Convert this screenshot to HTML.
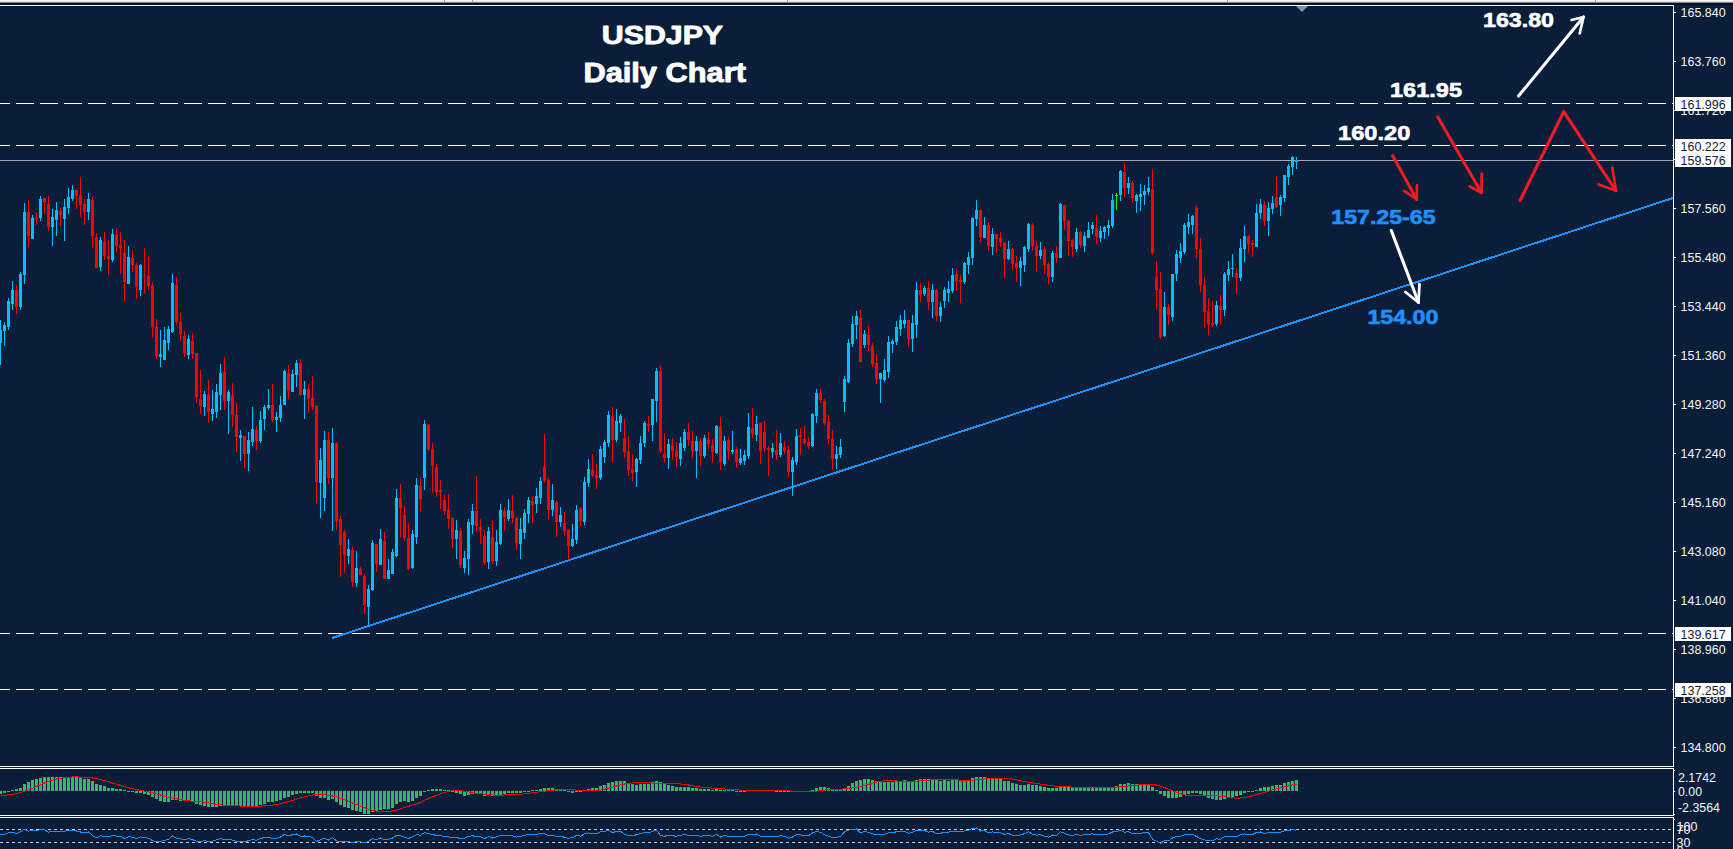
<!DOCTYPE html>
<html><head><meta charset="utf-8"><title>USDJPY Daily Chart</title>
<style>
html,body{margin:0;padding:0;background:#0a1e3a;overflow:hidden}
svg{display:block}
text{font-family:"Liberation Sans",sans-serif}
.ax{font-size:12.5px;fill:#f4f4f4}
.axb{font-size:12.5px;fill:#0a1e3a}
.ann{font-weight:bold;font-size:20.4px}
</style></head><body>
<svg width="1733" height="849" viewBox="0 0 1733 849">
<rect x="0" y="0" width="1733" height="849" fill="#0a1e3a"/>

<g shape-rendering="crispEdges">
<rect x="0" y="0" width="1733" height="1" fill="#f6f6f6"/>
<rect x="0" y="1" width="1733" height="1" fill="#e0dedc"/>
<rect x="0" y="2" width="1733" height="1" fill="#8a8682"/>
<rect x="444" y="0" width="1" height="2" fill="#9c9c9c"/>
<rect x="472" y="0" width="1" height="2" fill="#9c9c9c"/>
<rect x="787" y="0" width="1" height="2" fill="#9c9c9c"/>
<rect x="1227" y="0" width="1" height="2" fill="#9c9c9c"/>
<rect x="1595" y="0" width="1" height="2" fill="#9c9c9c"/>
<rect x="0" y="3" width="1733" height="2" fill="#00102c"/>
<rect x="0" y="5" width="1674" height="1" fill="#ffffff"/>
<rect x="0" y="6" width="1673" height="1" fill="#04132f"/>
<rect x="1673" y="5" width="1" height="762" fill="#ffffff"/>
<rect x="1673" y="768" width="1" height="48" fill="#ffffff"/>
<rect x="1673" y="817" width="1" height="32" fill="#ffffff"/>
<rect x="0" y="766" width="1674" height="1" fill="#ffffff"/>
<rect x="0" y="768" width="1674" height="1" fill="#ffffff"/>
<rect x="0" y="815" width="1674" height="1" fill="#ffffff"/>
<rect x="0" y="817" width="1674" height="1" fill="#ffffff"/>
<rect x="1674" y="12" width="2" height="1" fill="#ffffff"/>
<rect x="1674" y="61" width="2" height="1" fill="#ffffff"/>
<rect x="1674" y="110" width="2" height="1" fill="#ffffff"/>
<rect x="1674" y="159" width="2" height="1" fill="#ffffff"/>
<rect x="1674" y="208" width="2" height="1" fill="#ffffff"/>
<rect x="1674" y="257" width="2" height="1" fill="#ffffff"/>
<rect x="1674" y="306" width="2" height="1" fill="#ffffff"/>
<rect x="1674" y="355" width="2" height="1" fill="#ffffff"/>
<rect x="1674" y="404" width="2" height="1" fill="#ffffff"/>
<rect x="1674" y="453" width="2" height="1" fill="#ffffff"/>
<rect x="1674" y="502" width="2" height="1" fill="#ffffff"/>
<rect x="1674" y="551" width="2" height="1" fill="#ffffff"/>
<rect x="1674" y="600" width="2" height="1" fill="#ffffff"/>
<rect x="1674" y="649" width="2" height="1" fill="#ffffff"/>
<rect x="1674" y="698" width="2" height="1" fill="#ffffff"/>
<rect x="1674" y="747" width="2" height="1" fill="#ffffff"/>
<rect x="1674" y="770" width="1" height="1" fill="#ffffff"/>
<rect x="1674" y="791" width="1" height="1" fill="#ffffff"/>
<rect x="1674" y="814" width="1" height="1" fill="#ffffff"/>
<rect x="1674" y="819" width="1" height="1" fill="#ffffff"/>
</g>
<polygon points="1296,6 1308,6 1302,12" fill="#8494a6"/>
<g shape-rendering="crispEdges">
<line x1="-8" y1="103.5" x2="1673" y2="103.5" stroke="#ffffff" stroke-width="1" stroke-dasharray="18 6"/>
<line x1="-8" y1="145.5" x2="1673" y2="145.5" stroke="#ffffff" stroke-width="1" stroke-dasharray="18 6"/>
<line x1="-8" y1="633.5" x2="1673" y2="633.5" stroke="#ffffff" stroke-width="1" stroke-dasharray="18 6"/>
<line x1="-8" y1="689.5" x2="1673" y2="689.5" stroke="#ffffff" stroke-width="1" stroke-dasharray="18 6"/>
<rect x="0" y="160" width="1673" height="1" fill="#9da6b2"/>
<line x1="0" y1="829.5" x2="1673" y2="829.5" stroke="#c8ccd2" stroke-width="1" stroke-dasharray="3 3"/>
<line x1="0" y1="842.5" x2="1673" y2="842.5" stroke="#c8ccd2" stroke-width="1" stroke-dasharray="3 3"/>
</g>
<text class="ax" x="1680.6" y="16.7" textLength="45" lengthAdjust="spacingAndGlyphs">165.840</text>
<text class="ax" x="1680.6" y="65.7" textLength="45" lengthAdjust="spacingAndGlyphs">163.760</text>
<text class="ax" x="1680.6" y="114.7" textLength="45" lengthAdjust="spacingAndGlyphs">161.720</text>
<text class="ax" x="1680.6" y="163.7" textLength="45" lengthAdjust="spacingAndGlyphs">159.640</text>
<text class="ax" x="1680.6" y="212.7" textLength="45" lengthAdjust="spacingAndGlyphs">157.560</text>
<text class="ax" x="1680.6" y="261.7" textLength="45" lengthAdjust="spacingAndGlyphs">155.480</text>
<text class="ax" x="1680.6" y="310.7" textLength="45" lengthAdjust="spacingAndGlyphs">153.440</text>
<text class="ax" x="1680.6" y="359.7" textLength="45" lengthAdjust="spacingAndGlyphs">151.360</text>
<text class="ax" x="1680.6" y="408.7" textLength="45" lengthAdjust="spacingAndGlyphs">149.280</text>
<text class="ax" x="1680.6" y="457.7" textLength="45" lengthAdjust="spacingAndGlyphs">147.240</text>
<text class="ax" x="1680.6" y="506.7" textLength="45" lengthAdjust="spacingAndGlyphs">145.160</text>
<text class="ax" x="1680.6" y="555.7" textLength="45" lengthAdjust="spacingAndGlyphs">143.080</text>
<text class="ax" x="1680.6" y="604.7" textLength="45" lengthAdjust="spacingAndGlyphs">141.040</text>
<text class="ax" x="1680.6" y="653.7" textLength="45" lengthAdjust="spacingAndGlyphs">138.960</text>
<text class="ax" x="1680.6" y="702.7" textLength="45" lengthAdjust="spacingAndGlyphs">136.880</text>
<text class="ax" x="1680.6" y="751.7" textLength="45" lengthAdjust="spacingAndGlyphs">134.800</text>
<rect x="1675" y="97" width="56" height="14" fill="#ffffff" shape-rendering="crispEdges"/>
<text class="axb" x="1680.6" y="109.1" textLength="45" lengthAdjust="spacingAndGlyphs">161.996</text>
<rect x="1675" y="139" width="56" height="14" fill="#ffffff" shape-rendering="crispEdges"/>
<text class="axb" x="1680.6" y="151.1" textLength="45" lengthAdjust="spacingAndGlyphs">160.222</text>
<rect x="1675" y="153" width="56" height="14" fill="#ffffff" shape-rendering="crispEdges"/>
<text class="axb" x="1680.6" y="165.1" textLength="45" lengthAdjust="spacingAndGlyphs">159.576</text>
<rect x="1675" y="627" width="56" height="14" fill="#ffffff" shape-rendering="crispEdges"/>
<text class="axb" x="1680.6" y="639.1" textLength="45" lengthAdjust="spacingAndGlyphs">139.617</text>
<rect x="1675" y="683" width="56" height="14" fill="#ffffff" shape-rendering="crispEdges"/>
<text class="axb" x="1680.6" y="695.1" textLength="45" lengthAdjust="spacingAndGlyphs">137.258</text>
<text class="ax" x="1678" y="782" textLength="38" lengthAdjust="spacingAndGlyphs">2.1742</text>
<text class="ax" x="1678" y="796" textLength="24" lengthAdjust="spacingAndGlyphs">0.00</text>
<text class="ax" x="1678" y="812" textLength="42" lengthAdjust="spacingAndGlyphs">-2.3564</text>
<text class="ax" x="1676.6" y="831.2">100</text>
<text class="ax" x="1676.6" y="834">70</text>
<text class="ax" x="1676.6" y="847.2">30</text>
<text class="ax" x="1676.6" y="855">0</text>
<line x1="332" y1="638" x2="1673" y2="198" stroke="#1e90ff" stroke-width="2" shape-rendering="crispEdges"/>
<g shape-rendering="crispEdges">
<rect x="0" y="320" width="1" height="45" fill="#00bfff"/>
<rect x="-1" y="330" width="3" height="13" fill="#00bfff"/>
<rect x="4" y="322" width="1" height="24" fill="#00bfff"/>
<rect x="3" y="325" width="3" height="6" fill="#00bfff"/>
<rect x="8" y="298" width="1" height="32" fill="#00bfff"/>
<rect x="7" y="301" width="3" height="26" fill="#00bfff"/>
<rect x="12" y="281" width="1" height="29" fill="#00bfff"/>
<rect x="11" y="290" width="3" height="14" fill="#00bfff"/>
<rect x="16" y="285" width="1" height="29" fill="#ff0000"/>
<rect x="15" y="290" width="3" height="17" fill="#ff0000"/>
<rect x="20" y="272" width="1" height="38" fill="#00bfff"/>
<rect x="19" y="274" width="3" height="33" fill="#00bfff"/>
<rect x="24" y="203" width="1" height="81" fill="#00bfff"/>
<rect x="23" y="212" width="3" height="63" fill="#00bfff"/>
<rect x="28" y="200" width="1" height="47" fill="#ff0000"/>
<rect x="27" y="212" width="3" height="24" fill="#ff0000"/>
<rect x="32" y="215" width="1" height="24" fill="#00bfff"/>
<rect x="31" y="218" width="3" height="21" fill="#00bfff"/>
<rect x="36" y="212" width="1" height="13" fill="#ff0000"/>
<rect x="35" y="218" width="3" height="1" fill="#ff0000"/>
<rect x="40" y="196" width="1" height="25" fill="#00bfff"/>
<rect x="39" y="199" width="3" height="19" fill="#00bfff"/>
<rect x="44" y="198" width="1" height="16" fill="#ff0000"/>
<rect x="43" y="198" width="3" height="4" fill="#ff0000"/>
<rect x="48" y="196" width="1" height="35" fill="#ff0000"/>
<rect x="47" y="204" width="3" height="23" fill="#ff0000"/>
<rect x="52" y="209" width="1" height="37" fill="#00bfff"/>
<rect x="51" y="217" width="3" height="10" fill="#00bfff"/>
<rect x="56" y="202" width="1" height="34" fill="#00bfff"/>
<rect x="55" y="210" width="3" height="10" fill="#00bfff"/>
<rect x="60" y="208" width="1" height="18" fill="#ff0000"/>
<rect x="59" y="211" width="3" height="4" fill="#ff0000"/>
<rect x="64" y="199" width="1" height="42" fill="#00bfff"/>
<rect x="63" y="207" width="3" height="12" fill="#00bfff"/>
<rect x="68" y="188" width="1" height="26" fill="#00bfff"/>
<rect x="67" y="197" width="3" height="11" fill="#00bfff"/>
<rect x="72" y="185" width="1" height="16" fill="#00bfff"/>
<rect x="71" y="190" width="3" height="9" fill="#00bfff"/>
<rect x="76" y="189" width="1" height="20" fill="#ff0000"/>
<rect x="75" y="190" width="3" height="6" fill="#ff0000"/>
<rect x="80" y="177" width="1" height="40" fill="#ff0000"/>
<rect x="79" y="195" width="3" height="10" fill="#ff0000"/>
<rect x="84" y="199" width="1" height="26" fill="#ff0000"/>
<rect x="83" y="204" width="3" height="8" fill="#ff0000"/>
<rect x="88" y="193" width="1" height="27" fill="#00bfff"/>
<rect x="87" y="199" width="3" height="13" fill="#00bfff"/>
<rect x="92" y="196" width="1" height="52" fill="#ff0000"/>
<rect x="91" y="200" width="3" height="36" fill="#ff0000"/>
<rect x="96" y="233" width="1" height="35" fill="#ff0000"/>
<rect x="95" y="237" width="3" height="31" fill="#ff0000"/>
<rect x="100" y="237" width="1" height="34" fill="#00bfff"/>
<rect x="99" y="240" width="3" height="27" fill="#00bfff"/>
<rect x="104" y="232" width="1" height="28" fill="#ff0000"/>
<rect x="103" y="242" width="3" height="14" fill="#ff0000"/>
<rect x="108" y="240" width="1" height="35" fill="#ff0000"/>
<rect x="107" y="256" width="3" height="3" fill="#ff0000"/>
<rect x="112" y="229" width="1" height="33" fill="#00bfff"/>
<rect x="111" y="234" width="3" height="26" fill="#00bfff"/>
<rect x="116" y="228" width="1" height="24" fill="#ff0000"/>
<rect x="115" y="235" width="3" height="11" fill="#ff0000"/>
<rect x="120" y="232" width="1" height="42" fill="#ff0000"/>
<rect x="119" y="245" width="3" height="3" fill="#ff0000"/>
<rect x="124" y="240" width="1" height="61" fill="#ff0000"/>
<rect x="123" y="253" width="3" height="29" fill="#ff0000"/>
<rect x="128" y="246" width="1" height="38" fill="#00bfff"/>
<rect x="127" y="257" width="3" height="27" fill="#00bfff"/>
<rect x="132" y="250" width="1" height="22" fill="#ff0000"/>
<rect x="131" y="258" width="3" height="7" fill="#ff0000"/>
<rect x="136" y="263" width="1" height="36" fill="#ff0000"/>
<rect x="135" y="265" width="3" height="22" fill="#ff0000"/>
<rect x="140" y="264" width="1" height="32" fill="#00bfff"/>
<rect x="139" y="265" width="3" height="25" fill="#00bfff"/>
<rect x="144" y="248" width="1" height="46" fill="#ff0000"/>
<rect x="143" y="275" width="3" height="1" fill="#ff0000"/>
<rect x="148" y="257" width="1" height="33" fill="#ff0000"/>
<rect x="147" y="276" width="3" height="10" fill="#ff0000"/>
<rect x="152" y="282" width="1" height="56" fill="#ff0000"/>
<rect x="151" y="286" width="3" height="41" fill="#ff0000"/>
<rect x="156" y="319" width="1" height="40" fill="#ff0000"/>
<rect x="155" y="327" width="3" height="29" fill="#ff0000"/>
<rect x="160" y="330" width="1" height="37" fill="#00bfff"/>
<rect x="159" y="354" width="3" height="3" fill="#00bfff"/>
<rect x="164" y="327" width="1" height="33" fill="#00bfff"/>
<rect x="163" y="340" width="3" height="20" fill="#00bfff"/>
<rect x="168" y="326" width="1" height="24" fill="#00bfff"/>
<rect x="167" y="329" width="3" height="14" fill="#00bfff"/>
<rect x="172" y="274" width="1" height="59" fill="#00bfff"/>
<rect x="171" y="283" width="3" height="49" fill="#00bfff"/>
<rect x="176" y="277" width="1" height="48" fill="#ff0000"/>
<rect x="175" y="285" width="3" height="37" fill="#ff0000"/>
<rect x="180" y="313" width="1" height="28" fill="#ff0000"/>
<rect x="179" y="322" width="3" height="12" fill="#ff0000"/>
<rect x="184" y="331" width="1" height="26" fill="#ff0000"/>
<rect x="183" y="336" width="3" height="17" fill="#ff0000"/>
<rect x="188" y="335" width="1" height="24" fill="#00bfff"/>
<rect x="187" y="339" width="3" height="16" fill="#00bfff"/>
<rect x="192" y="333" width="1" height="26" fill="#ff0000"/>
<rect x="191" y="341" width="3" height="13" fill="#ff0000"/>
<rect x="196" y="353" width="1" height="50" fill="#ff0000"/>
<rect x="195" y="353" width="3" height="44" fill="#ff0000"/>
<rect x="200" y="370" width="1" height="44" fill="#ff0000"/>
<rect x="199" y="399" width="3" height="7" fill="#ff0000"/>
<rect x="204" y="391" width="1" height="25" fill="#00bfff"/>
<rect x="203" y="394" width="3" height="13" fill="#00bfff"/>
<rect x="208" y="380" width="1" height="43" fill="#ff0000"/>
<rect x="207" y="395" width="3" height="17" fill="#ff0000"/>
<rect x="212" y="390" width="1" height="31" fill="#00bfff"/>
<rect x="211" y="409" width="3" height="5" fill="#00bfff"/>
<rect x="216" y="384" width="1" height="34" fill="#00bfff"/>
<rect x="215" y="392" width="3" height="20" fill="#00bfff"/>
<rect x="220" y="364" width="1" height="46" fill="#00bfff"/>
<rect x="219" y="373" width="3" height="22" fill="#00bfff"/>
<rect x="224" y="357" width="1" height="53" fill="#ff0000"/>
<rect x="223" y="372" width="3" height="29" fill="#ff0000"/>
<rect x="228" y="390" width="1" height="44" fill="#00bfff"/>
<rect x="227" y="392" width="3" height="9" fill="#00bfff"/>
<rect x="232" y="383" width="1" height="44" fill="#ff0000"/>
<rect x="231" y="395" width="3" height="20" fill="#ff0000"/>
<rect x="236" y="403" width="1" height="49" fill="#ff0000"/>
<rect x="235" y="415" width="3" height="22" fill="#ff0000"/>
<rect x="240" y="430" width="1" height="31" fill="#00bfff"/>
<rect x="239" y="435" width="3" height="3" fill="#00bfff"/>
<rect x="244" y="436" width="1" height="32" fill="#ff0000"/>
<rect x="243" y="436" width="3" height="18" fill="#ff0000"/>
<rect x="248" y="432" width="1" height="39" fill="#00bfff"/>
<rect x="247" y="440" width="3" height="14" fill="#00bfff"/>
<rect x="252" y="407" width="1" height="39" fill="#00bfff"/>
<rect x="251" y="429" width="3" height="13" fill="#00bfff"/>
<rect x="256" y="426" width="1" height="24" fill="#ff0000"/>
<rect x="255" y="430" width="3" height="11" fill="#ff0000"/>
<rect x="260" y="411" width="1" height="32" fill="#00bfff"/>
<rect x="259" y="420" width="3" height="21" fill="#00bfff"/>
<rect x="264" y="405" width="1" height="25" fill="#00bfff"/>
<rect x="263" y="407" width="3" height="12" fill="#00bfff"/>
<rect x="268" y="389" width="1" height="21" fill="#00bfff"/>
<rect x="267" y="405" width="3" height="3" fill="#00bfff"/>
<rect x="272" y="384" width="1" height="38" fill="#ff0000"/>
<rect x="271" y="405" width="3" height="15" fill="#ff0000"/>
<rect x="276" y="412" width="1" height="20" fill="#00bfff"/>
<rect x="275" y="417" width="3" height="3" fill="#00bfff"/>
<rect x="280" y="396" width="1" height="26" fill="#00bfff"/>
<rect x="279" y="405" width="3" height="13" fill="#00bfff"/>
<rect x="284" y="370" width="1" height="35" fill="#00bfff"/>
<rect x="283" y="371" width="3" height="34" fill="#00bfff"/>
<rect x="288" y="365" width="1" height="34" fill="#ff0000"/>
<rect x="287" y="373" width="3" height="18" fill="#ff0000"/>
<rect x="292" y="370" width="1" height="22" fill="#00bfff"/>
<rect x="291" y="374" width="3" height="18" fill="#00bfff"/>
<rect x="296" y="360" width="1" height="27" fill="#00bfff"/>
<rect x="295" y="363" width="3" height="12" fill="#00bfff"/>
<rect x="300" y="359" width="1" height="37" fill="#ff0000"/>
<rect x="299" y="363" width="3" height="32" fill="#ff0000"/>
<rect x="304" y="381" width="1" height="38" fill="#00bfff"/>
<rect x="303" y="389" width="3" height="6" fill="#00bfff"/>
<rect x="308" y="384" width="1" height="29" fill="#ff0000"/>
<rect x="307" y="389" width="3" height="10" fill="#ff0000"/>
<rect x="312" y="376" width="1" height="34" fill="#ff0000"/>
<rect x="311" y="398" width="3" height="9" fill="#ff0000"/>
<rect x="316" y="405" width="1" height="98" fill="#ff0000"/>
<rect x="315" y="406" width="3" height="76" fill="#ff0000"/>
<rect x="320" y="448" width="1" height="70" fill="#00bfff"/>
<rect x="319" y="460" width="3" height="23" fill="#00bfff"/>
<rect x="324" y="431" width="1" height="80" fill="#00bfff"/>
<rect x="323" y="440" width="3" height="58" fill="#00bfff"/>
<rect x="328" y="432" width="1" height="52" fill="#ff0000"/>
<rect x="327" y="440" width="3" height="38" fill="#ff0000"/>
<rect x="332" y="428" width="1" height="103" fill="#00bfff"/>
<rect x="331" y="443" width="3" height="35" fill="#00bfff"/>
<rect x="336" y="442" width="1" height="88" fill="#ff0000"/>
<rect x="335" y="443" width="3" height="78" fill="#ff0000"/>
<rect x="340" y="516" width="1" height="61" fill="#ff0000"/>
<rect x="339" y="519" width="3" height="26" fill="#ff0000"/>
<rect x="344" y="530" width="1" height="43" fill="#ff0000"/>
<rect x="343" y="532" width="3" height="23" fill="#ff0000"/>
<rect x="348" y="539" width="1" height="25" fill="#00bfff"/>
<rect x="347" y="549" width="3" height="7" fill="#00bfff"/>
<rect x="352" y="547" width="1" height="40" fill="#ff0000"/>
<rect x="351" y="550" width="3" height="32" fill="#ff0000"/>
<rect x="356" y="551" width="1" height="36" fill="#00bfff"/>
<rect x="355" y="568" width="3" height="15" fill="#00bfff"/>
<rect x="360" y="567" width="1" height="8" fill="#ff0000"/>
<rect x="359" y="569" width="3" height="6" fill="#ff0000"/>
<rect x="364" y="574" width="1" height="40" fill="#ff0000"/>
<rect x="363" y="576" width="3" height="29" fill="#ff0000"/>
<rect x="368" y="585" width="1" height="41" fill="#00bfff"/>
<rect x="367" y="589" width="3" height="18" fill="#00bfff"/>
<rect x="372" y="540" width="1" height="51" fill="#00bfff"/>
<rect x="371" y="543" width="3" height="47" fill="#00bfff"/>
<rect x="376" y="544" width="1" height="28" fill="#ff0000"/>
<rect x="375" y="544" width="3" height="20" fill="#ff0000"/>
<rect x="380" y="529" width="1" height="36" fill="#00bfff"/>
<rect x="379" y="539" width="3" height="26" fill="#00bfff"/>
<rect x="384" y="532" width="1" height="47" fill="#ff0000"/>
<rect x="383" y="541" width="3" height="38" fill="#ff0000"/>
<rect x="388" y="559" width="1" height="20" fill="#00bfff"/>
<rect x="387" y="570" width="3" height="9" fill="#00bfff"/>
<rect x="392" y="549" width="1" height="25" fill="#00bfff"/>
<rect x="391" y="552" width="3" height="22" fill="#00bfff"/>
<rect x="396" y="489" width="1" height="68" fill="#00bfff"/>
<rect x="395" y="498" width="3" height="58" fill="#00bfff"/>
<rect x="400" y="484" width="1" height="53" fill="#ff0000"/>
<rect x="399" y="498" width="3" height="10" fill="#ff0000"/>
<rect x="404" y="506" width="1" height="35" fill="#ff0000"/>
<rect x="403" y="515" width="3" height="23" fill="#ff0000"/>
<rect x="408" y="523" width="1" height="47" fill="#ff0000"/>
<rect x="407" y="538" width="3" height="31" fill="#ff0000"/>
<rect x="412" y="530" width="1" height="39" fill="#00bfff"/>
<rect x="411" y="534" width="3" height="34" fill="#00bfff"/>
<rect x="416" y="478" width="1" height="66" fill="#00bfff"/>
<rect x="415" y="485" width="3" height="52" fill="#00bfff"/>
<rect x="420" y="478" width="1" height="33" fill="#ff0000"/>
<rect x="419" y="486" width="3" height="13" fill="#ff0000"/>
<rect x="424" y="420" width="1" height="70" fill="#00bfff"/>
<rect x="423" y="424" width="3" height="54" fill="#00bfff"/>
<rect x="428" y="424" width="1" height="27" fill="#ff0000"/>
<rect x="427" y="425" width="3" height="24" fill="#ff0000"/>
<rect x="432" y="443" width="1" height="50" fill="#ff0000"/>
<rect x="431" y="449" width="3" height="17" fill="#ff0000"/>
<rect x="436" y="464" width="1" height="33" fill="#ff0000"/>
<rect x="435" y="467" width="3" height="25" fill="#ff0000"/>
<rect x="440" y="480" width="1" height="29" fill="#ff0000"/>
<rect x="439" y="490" width="3" height="2" fill="#ff0000"/>
<rect x="444" y="495" width="1" height="20" fill="#ff0000"/>
<rect x="443" y="500" width="3" height="11" fill="#ff0000"/>
<rect x="448" y="494" width="1" height="35" fill="#ff0000"/>
<rect x="447" y="510" width="3" height="9" fill="#ff0000"/>
<rect x="452" y="517" width="1" height="31" fill="#ff0000"/>
<rect x="451" y="518" width="3" height="21" fill="#ff0000"/>
<rect x="456" y="520" width="1" height="39" fill="#00bfff"/>
<rect x="455" y="530" width="3" height="9" fill="#00bfff"/>
<rect x="460" y="528" width="1" height="40" fill="#ff0000"/>
<rect x="459" y="531" width="3" height="34" fill="#ff0000"/>
<rect x="464" y="551" width="1" height="22" fill="#00bfff"/>
<rect x="463" y="558" width="3" height="10" fill="#00bfff"/>
<rect x="468" y="519" width="1" height="56" fill="#00bfff"/>
<rect x="467" y="522" width="3" height="37" fill="#00bfff"/>
<rect x="472" y="504" width="1" height="30" fill="#00bfff"/>
<rect x="471" y="511" width="3" height="14" fill="#00bfff"/>
<rect x="476" y="476" width="1" height="56" fill="#ff0000"/>
<rect x="475" y="511" width="3" height="15" fill="#ff0000"/>
<rect x="480" y="519" width="1" height="25" fill="#ff0000"/>
<rect x="479" y="527" width="3" height="4" fill="#ff0000"/>
<rect x="484" y="530" width="1" height="35" fill="#ff0000"/>
<rect x="483" y="536" width="3" height="27" fill="#ff0000"/>
<rect x="488" y="527" width="1" height="42" fill="#00bfff"/>
<rect x="487" y="531" width="3" height="31" fill="#00bfff"/>
<rect x="492" y="520" width="1" height="44" fill="#ff0000"/>
<rect x="491" y="537" width="3" height="24" fill="#ff0000"/>
<rect x="496" y="530" width="1" height="36" fill="#00bfff"/>
<rect x="495" y="542" width="3" height="19" fill="#00bfff"/>
<rect x="500" y="504" width="1" height="41" fill="#00bfff"/>
<rect x="499" y="510" width="3" height="34" fill="#00bfff"/>
<rect x="504" y="507" width="1" height="24" fill="#ff0000"/>
<rect x="503" y="511" width="3" height="6" fill="#ff0000"/>
<rect x="508" y="499" width="1" height="22" fill="#00bfff"/>
<rect x="507" y="510" width="3" height="9" fill="#00bfff"/>
<rect x="512" y="495" width="1" height="28" fill="#ff0000"/>
<rect x="511" y="511" width="3" height="7" fill="#ff0000"/>
<rect x="516" y="517" width="1" height="33" fill="#ff0000"/>
<rect x="515" y="518" width="3" height="25" fill="#ff0000"/>
<rect x="520" y="518" width="1" height="41" fill="#00bfff"/>
<rect x="519" y="529" width="3" height="15" fill="#00bfff"/>
<rect x="524" y="509" width="1" height="30" fill="#00bfff"/>
<rect x="523" y="513" width="3" height="20" fill="#00bfff"/>
<rect x="528" y="497" width="1" height="26" fill="#00bfff"/>
<rect x="527" y="500" width="3" height="14" fill="#00bfff"/>
<rect x="532" y="496" width="1" height="27" fill="#ff0000"/>
<rect x="531" y="501" width="3" height="4" fill="#ff0000"/>
<rect x="536" y="488" width="1" height="25" fill="#00bfff"/>
<rect x="535" y="496" width="3" height="8" fill="#00bfff"/>
<rect x="540" y="477" width="1" height="27" fill="#00bfff"/>
<rect x="539" y="481" width="3" height="17" fill="#00bfff"/>
<rect x="544" y="434" width="1" height="49" fill="#ff0000"/>
<rect x="543" y="467" width="3" height="14" fill="#ff0000"/>
<rect x="548" y="478" width="1" height="41" fill="#ff0000"/>
<rect x="547" y="480" width="3" height="30" fill="#ff0000"/>
<rect x="552" y="484" width="1" height="32" fill="#00bfff"/>
<rect x="551" y="500" width="3" height="10" fill="#00bfff"/>
<rect x="556" y="500" width="1" height="37" fill="#ff0000"/>
<rect x="555" y="502" width="3" height="20" fill="#ff0000"/>
<rect x="560" y="507" width="1" height="20" fill="#00bfff"/>
<rect x="559" y="515" width="3" height="7" fill="#00bfff"/>
<rect x="564" y="512" width="1" height="24" fill="#ff0000"/>
<rect x="563" y="523" width="3" height="8" fill="#ff0000"/>
<rect x="568" y="529" width="1" height="31" fill="#ff0000"/>
<rect x="567" y="530" width="3" height="16" fill="#ff0000"/>
<rect x="572" y="524" width="1" height="23" fill="#00bfff"/>
<rect x="571" y="539" width="3" height="7" fill="#00bfff"/>
<rect x="576" y="505" width="1" height="39" fill="#00bfff"/>
<rect x="575" y="510" width="3" height="30" fill="#00bfff"/>
<rect x="580" y="507" width="1" height="19" fill="#ff0000"/>
<rect x="579" y="509" width="3" height="12" fill="#ff0000"/>
<rect x="584" y="477" width="1" height="48" fill="#00bfff"/>
<rect x="583" y="482" width="3" height="40" fill="#00bfff"/>
<rect x="588" y="459" width="1" height="28" fill="#00bfff"/>
<rect x="587" y="469" width="3" height="14" fill="#00bfff"/>
<rect x="592" y="454" width="1" height="23" fill="#ff0000"/>
<rect x="591" y="470" width="3" height="6" fill="#ff0000"/>
<rect x="596" y="464" width="1" height="25" fill="#ff0000"/>
<rect x="595" y="475" width="3" height="3" fill="#ff0000"/>
<rect x="600" y="446" width="1" height="34" fill="#00bfff"/>
<rect x="599" y="449" width="3" height="29" fill="#00bfff"/>
<rect x="604" y="440" width="1" height="23" fill="#00bfff"/>
<rect x="603" y="442" width="3" height="15" fill="#00bfff"/>
<rect x="608" y="411" width="1" height="36" fill="#00bfff"/>
<rect x="607" y="415" width="3" height="28" fill="#00bfff"/>
<rect x="612" y="407" width="1" height="55" fill="#ff0000"/>
<rect x="611" y="416" width="3" height="24" fill="#ff0000"/>
<rect x="616" y="409" width="1" height="33" fill="#00bfff"/>
<rect x="615" y="421" width="3" height="19" fill="#00bfff"/>
<rect x="620" y="414" width="1" height="18" fill="#00bfff"/>
<rect x="619" y="416" width="3" height="7" fill="#00bfff"/>
<rect x="624" y="419" width="1" height="39" fill="#ff0000"/>
<rect x="623" y="438" width="3" height="14" fill="#ff0000"/>
<rect x="628" y="436" width="1" height="40" fill="#ff0000"/>
<rect x="627" y="451" width="3" height="19" fill="#ff0000"/>
<rect x="632" y="454" width="1" height="27" fill="#ff0000"/>
<rect x="631" y="469" width="3" height="4" fill="#ff0000"/>
<rect x="636" y="458" width="1" height="29" fill="#00bfff"/>
<rect x="635" y="459" width="3" height="13" fill="#00bfff"/>
<rect x="640" y="436" width="1" height="28" fill="#00bfff"/>
<rect x="639" y="443" width="3" height="17" fill="#00bfff"/>
<rect x="644" y="421" width="1" height="26" fill="#00bfff"/>
<rect x="643" y="423" width="3" height="20" fill="#00bfff"/>
<rect x="648" y="416" width="1" height="16" fill="#ff0000"/>
<rect x="647" y="424" width="3" height="2" fill="#ff0000"/>
<rect x="652" y="399" width="1" height="42" fill="#00bfff"/>
<rect x="651" y="399" width="3" height="26" fill="#00bfff"/>
<rect x="656" y="368" width="1" height="54" fill="#00bfff"/>
<rect x="655" y="371" width="3" height="30" fill="#00bfff"/>
<rect x="660" y="366" width="1" height="87" fill="#ff0000"/>
<rect x="659" y="371" width="3" height="80" fill="#ff0000"/>
<rect x="664" y="433" width="1" height="30" fill="#ff0000"/>
<rect x="663" y="454" width="3" height="4" fill="#ff0000"/>
<rect x="668" y="439" width="1" height="30" fill="#00bfff"/>
<rect x="667" y="444" width="3" height="14" fill="#00bfff"/>
<rect x="672" y="438" width="1" height="22" fill="#ff0000"/>
<rect x="671" y="445" width="3" height="6" fill="#ff0000"/>
<rect x="676" y="442" width="1" height="25" fill="#ff0000"/>
<rect x="675" y="451" width="3" height="6" fill="#ff0000"/>
<rect x="680" y="437" width="1" height="29" fill="#00bfff"/>
<rect x="679" y="443" width="3" height="16" fill="#00bfff"/>
<rect x="684" y="429" width="1" height="22" fill="#00bfff"/>
<rect x="683" y="432" width="3" height="16" fill="#00bfff"/>
<rect x="688" y="423" width="1" height="23" fill="#ff0000"/>
<rect x="687" y="432" width="3" height="8" fill="#ff0000"/>
<rect x="692" y="431" width="1" height="27" fill="#ff0000"/>
<rect x="691" y="441" width="3" height="10" fill="#ff0000"/>
<rect x="696" y="436" width="1" height="42" fill="#00bfff"/>
<rect x="695" y="441" width="3" height="10" fill="#00bfff"/>
<rect x="700" y="438" width="1" height="28" fill="#ff0000"/>
<rect x="699" y="441" width="3" height="15" fill="#ff0000"/>
<rect x="704" y="435" width="1" height="23" fill="#00bfff"/>
<rect x="703" y="438" width="3" height="18" fill="#00bfff"/>
<rect x="708" y="432" width="1" height="17" fill="#ff0000"/>
<rect x="707" y="440" width="3" height="4" fill="#ff0000"/>
<rect x="712" y="439" width="1" height="24" fill="#ff0000"/>
<rect x="711" y="445" width="3" height="7" fill="#ff0000"/>
<rect x="716" y="425" width="1" height="29" fill="#00bfff"/>
<rect x="715" y="426" width="3" height="27" fill="#00bfff"/>
<rect x="720" y="417" width="1" height="53" fill="#ff0000"/>
<rect x="719" y="426" width="3" height="36" fill="#ff0000"/>
<rect x="724" y="436" width="1" height="30" fill="#00bfff"/>
<rect x="723" y="441" width="3" height="23" fill="#00bfff"/>
<rect x="728" y="437" width="1" height="23" fill="#ff0000"/>
<rect x="727" y="440" width="3" height="11" fill="#ff0000"/>
<rect x="732" y="431" width="1" height="23" fill="#00bfff"/>
<rect x="731" y="450" width="3" height="2" fill="#00bfff"/>
<rect x="736" y="447" width="1" height="21" fill="#ff0000"/>
<rect x="735" y="449" width="3" height="13" fill="#ff0000"/>
<rect x="740" y="449" width="1" height="16" fill="#00bfff"/>
<rect x="739" y="458" width="3" height="5" fill="#00bfff"/>
<rect x="744" y="450" width="1" height="15" fill="#00bfff"/>
<rect x="743" y="455" width="3" height="6" fill="#00bfff"/>
<rect x="748" y="413" width="1" height="46" fill="#00bfff"/>
<rect x="747" y="427" width="3" height="29" fill="#00bfff"/>
<rect x="752" y="408" width="1" height="31" fill="#ff0000"/>
<rect x="751" y="428" width="3" height="6" fill="#ff0000"/>
<rect x="756" y="416" width="1" height="25" fill="#00bfff"/>
<rect x="755" y="424" width="3" height="11" fill="#00bfff"/>
<rect x="760" y="423" width="1" height="41" fill="#ff0000"/>
<rect x="759" y="423" width="3" height="28" fill="#ff0000"/>
<rect x="764" y="421" width="1" height="31" fill="#ff0000"/>
<rect x="763" y="432" width="3" height="16" fill="#ff0000"/>
<rect x="768" y="446" width="1" height="30" fill="#ff0000"/>
<rect x="767" y="448" width="3" height="2" fill="#ff0000"/>
<rect x="772" y="443" width="1" height="15" fill="#00bfff"/>
<rect x="771" y="448" width="3" height="4" fill="#00bfff"/>
<rect x="776" y="430" width="1" height="30" fill="#ff0000"/>
<rect x="775" y="450" width="3" height="5" fill="#ff0000"/>
<rect x="780" y="433" width="1" height="24" fill="#00bfff"/>
<rect x="779" y="443" width="3" height="12" fill="#00bfff"/>
<rect x="784" y="441" width="1" height="13" fill="#ff0000"/>
<rect x="783" y="447" width="3" height="4" fill="#ff0000"/>
<rect x="788" y="446" width="1" height="31" fill="#ff0000"/>
<rect x="787" y="450" width="3" height="22" fill="#ff0000"/>
<rect x="792" y="457" width="1" height="39" fill="#00bfff"/>
<rect x="791" y="460" width="3" height="12" fill="#00bfff"/>
<rect x="796" y="429" width="1" height="36" fill="#00bfff"/>
<rect x="795" y="436" width="3" height="26" fill="#00bfff"/>
<rect x="800" y="428" width="1" height="27" fill="#ff0000"/>
<rect x="799" y="435" width="3" height="2" fill="#ff0000"/>
<rect x="804" y="426" width="1" height="18" fill="#ff0000"/>
<rect x="803" y="439" width="3" height="4" fill="#ff0000"/>
<rect x="808" y="437" width="1" height="12" fill="#ff0000"/>
<rect x="807" y="442" width="3" height="4" fill="#ff0000"/>
<rect x="812" y="413" width="1" height="34" fill="#00bfff"/>
<rect x="811" y="414" width="3" height="32" fill="#00bfff"/>
<rect x="816" y="389" width="1" height="34" fill="#00bfff"/>
<rect x="815" y="393" width="3" height="23" fill="#00bfff"/>
<rect x="820" y="389" width="1" height="14" fill="#ff0000"/>
<rect x="819" y="393" width="3" height="7" fill="#ff0000"/>
<rect x="824" y="399" width="1" height="26" fill="#ff0000"/>
<rect x="823" y="401" width="3" height="22" fill="#ff0000"/>
<rect x="828" y="415" width="1" height="29" fill="#ff0000"/>
<rect x="827" y="422" width="3" height="17" fill="#ff0000"/>
<rect x="832" y="430" width="1" height="40" fill="#ff0000"/>
<rect x="831" y="439" width="3" height="20" fill="#ff0000"/>
<rect x="836" y="446" width="1" height="23" fill="#00bfff"/>
<rect x="835" y="454" width="3" height="5" fill="#00bfff"/>
<rect x="840" y="439" width="1" height="19" fill="#00bfff"/>
<rect x="839" y="447" width="3" height="8" fill="#00bfff"/>
<rect x="844" y="376" width="1" height="36" fill="#00bfff"/>
<rect x="843" y="379" width="3" height="23" fill="#00bfff"/>
<rect x="848" y="339" width="1" height="44" fill="#00bfff"/>
<rect x="847" y="343" width="3" height="39" fill="#00bfff"/>
<rect x="852" y="316" width="1" height="31" fill="#00bfff"/>
<rect x="851" y="324" width="3" height="20" fill="#00bfff"/>
<rect x="856" y="311" width="1" height="28" fill="#00bfff"/>
<rect x="855" y="316" width="3" height="9" fill="#00bfff"/>
<rect x="860" y="310" width="1" height="52" fill="#ff0000"/>
<rect x="859" y="318" width="3" height="44" fill="#ff0000"/>
<rect x="864" y="330" width="1" height="18" fill="#00bfff"/>
<rect x="863" y="334" width="3" height="11" fill="#00bfff"/>
<rect x="868" y="326" width="1" height="25" fill="#ff0000"/>
<rect x="867" y="335" width="3" height="10" fill="#ff0000"/>
<rect x="872" y="343" width="1" height="24" fill="#ff0000"/>
<rect x="871" y="346" width="3" height="18" fill="#ff0000"/>
<rect x="876" y="354" width="1" height="30" fill="#ff0000"/>
<rect x="875" y="363" width="3" height="16" fill="#ff0000"/>
<rect x="880" y="373" width="1" height="30" fill="#00bfff"/>
<rect x="879" y="373" width="3" height="6" fill="#00bfff"/>
<rect x="884" y="359" width="1" height="23" fill="#00bfff"/>
<rect x="883" y="370" width="3" height="10" fill="#00bfff"/>
<rect x="888" y="336" width="1" height="42" fill="#00bfff"/>
<rect x="887" y="342" width="3" height="30" fill="#00bfff"/>
<rect x="892" y="339" width="1" height="14" fill="#00bfff"/>
<rect x="891" y="341" width="3" height="3" fill="#00bfff"/>
<rect x="896" y="321" width="1" height="24" fill="#00bfff"/>
<rect x="895" y="327" width="3" height="15" fill="#00bfff"/>
<rect x="900" y="315" width="1" height="21" fill="#00bfff"/>
<rect x="899" y="320" width="3" height="9" fill="#00bfff"/>
<rect x="904" y="310" width="1" height="18" fill="#00bfff"/>
<rect x="903" y="320" width="3" height="4" fill="#00bfff"/>
<rect x="908" y="320" width="1" height="27" fill="#ff0000"/>
<rect x="907" y="320" width="3" height="19" fill="#ff0000"/>
<rect x="912" y="315" width="1" height="37" fill="#00bfff"/>
<rect x="911" y="323" width="3" height="16" fill="#00bfff"/>
<rect x="916" y="282" width="1" height="56" fill="#00bfff"/>
<rect x="915" y="290" width="3" height="35" fill="#00bfff"/>
<rect x="920" y="283" width="1" height="19" fill="#ff0000"/>
<rect x="919" y="290" width="3" height="5" fill="#ff0000"/>
<rect x="924" y="286" width="1" height="10" fill="#00bfff"/>
<rect x="923" y="288" width="3" height="6" fill="#00bfff"/>
<rect x="928" y="281" width="1" height="29" fill="#ff0000"/>
<rect x="927" y="288" width="3" height="14" fill="#ff0000"/>
<rect x="932" y="284" width="1" height="34" fill="#00bfff"/>
<rect x="931" y="290" width="3" height="12" fill="#00bfff"/>
<rect x="936" y="289" width="1" height="32" fill="#ff0000"/>
<rect x="935" y="290" width="3" height="26" fill="#ff0000"/>
<rect x="940" y="302" width="1" height="20" fill="#00bfff"/>
<rect x="939" y="307" width="3" height="9" fill="#00bfff"/>
<rect x="944" y="287" width="1" height="21" fill="#00bfff"/>
<rect x="943" y="290" width="3" height="11" fill="#00bfff"/>
<rect x="948" y="281" width="1" height="21" fill="#00bfff"/>
<rect x="947" y="289" width="3" height="4" fill="#00bfff"/>
<rect x="952" y="268" width="1" height="25" fill="#00bfff"/>
<rect x="951" y="275" width="3" height="16" fill="#00bfff"/>
<rect x="956" y="269" width="1" height="22" fill="#ff0000"/>
<rect x="955" y="274" width="3" height="7" fill="#ff0000"/>
<rect x="960" y="275" width="1" height="28" fill="#ff0000"/>
<rect x="959" y="280" width="3" height="2" fill="#ff0000"/>
<rect x="964" y="262" width="1" height="22" fill="#00bfff"/>
<rect x="963" y="263" width="3" height="19" fill="#00bfff"/>
<rect x="968" y="252" width="1" height="22" fill="#00bfff"/>
<rect x="967" y="257" width="3" height="8" fill="#00bfff"/>
<rect x="972" y="217" width="1" height="48" fill="#00bfff"/>
<rect x="971" y="218" width="3" height="40" fill="#00bfff"/>
<rect x="976" y="200" width="1" height="26" fill="#00bfff"/>
<rect x="975" y="210" width="3" height="9" fill="#00bfff"/>
<rect x="980" y="209" width="1" height="33" fill="#ff0000"/>
<rect x="979" y="210" width="3" height="27" fill="#ff0000"/>
<rect x="984" y="217" width="1" height="21" fill="#00bfff"/>
<rect x="983" y="225" width="3" height="13" fill="#00bfff"/>
<rect x="988" y="222" width="1" height="29" fill="#ff0000"/>
<rect x="987" y="225" width="3" height="21" fill="#ff0000"/>
<rect x="992" y="228" width="1" height="27" fill="#00bfff"/>
<rect x="991" y="234" width="3" height="13" fill="#00bfff"/>
<rect x="996" y="234" width="1" height="19" fill="#ff0000"/>
<rect x="995" y="234" width="3" height="5" fill="#ff0000"/>
<rect x="1000" y="232" width="1" height="15" fill="#ff0000"/>
<rect x="999" y="238" width="3" height="4" fill="#ff0000"/>
<rect x="1004" y="242" width="1" height="36" fill="#ff0000"/>
<rect x="1003" y="243" width="3" height="16" fill="#ff0000"/>
<rect x="1008" y="241" width="1" height="19" fill="#00bfff"/>
<rect x="1007" y="249" width="3" height="10" fill="#00bfff"/>
<rect x="1012" y="248" width="1" height="22" fill="#ff0000"/>
<rect x="1011" y="249" width="3" height="15" fill="#ff0000"/>
<rect x="1016" y="256" width="1" height="26" fill="#ff0000"/>
<rect x="1015" y="263" width="3" height="5" fill="#ff0000"/>
<rect x="1020" y="257" width="1" height="29" fill="#00bfff"/>
<rect x="1019" y="261" width="3" height="7" fill="#00bfff"/>
<rect x="1024" y="246" width="1" height="26" fill="#00bfff"/>
<rect x="1023" y="247" width="3" height="18" fill="#00bfff"/>
<rect x="1028" y="223" width="1" height="29" fill="#00bfff"/>
<rect x="1027" y="224" width="3" height="25" fill="#00bfff"/>
<rect x="1032" y="223" width="1" height="28" fill="#ff0000"/>
<rect x="1031" y="225" width="3" height="21" fill="#ff0000"/>
<rect x="1036" y="241" width="1" height="30" fill="#ff0000"/>
<rect x="1035" y="246" width="3" height="10" fill="#ff0000"/>
<rect x="1040" y="242" width="1" height="17" fill="#00bfff"/>
<rect x="1039" y="250" width="3" height="6" fill="#00bfff"/>
<rect x="1044" y="246" width="1" height="28" fill="#ff0000"/>
<rect x="1043" y="249" width="3" height="16" fill="#ff0000"/>
<rect x="1048" y="262" width="1" height="22" fill="#ff0000"/>
<rect x="1047" y="264" width="3" height="13" fill="#ff0000"/>
<rect x="1052" y="251" width="1" height="31" fill="#00bfff"/>
<rect x="1051" y="253" width="3" height="24" fill="#00bfff"/>
<rect x="1056" y="246" width="1" height="17" fill="#ff0000"/>
<rect x="1055" y="253" width="3" height="5" fill="#ff0000"/>
<rect x="1060" y="203" width="1" height="55" fill="#00bfff"/>
<rect x="1059" y="204" width="3" height="54" fill="#00bfff"/>
<rect x="1064" y="205" width="1" height="25" fill="#ff0000"/>
<rect x="1063" y="205" width="3" height="16" fill="#ff0000"/>
<rect x="1068" y="220" width="1" height="35" fill="#ff0000"/>
<rect x="1067" y="221" width="3" height="20" fill="#ff0000"/>
<rect x="1072" y="239" width="1" height="18" fill="#ff0000"/>
<rect x="1071" y="240" width="3" height="7" fill="#ff0000"/>
<rect x="1076" y="228" width="1" height="24" fill="#00bfff"/>
<rect x="1075" y="232" width="3" height="17" fill="#00bfff"/>
<rect x="1080" y="231" width="1" height="17" fill="#ff0000"/>
<rect x="1079" y="232" width="3" height="13" fill="#ff0000"/>
<rect x="1084" y="232" width="1" height="20" fill="#00bfff"/>
<rect x="1083" y="236" width="3" height="10" fill="#00bfff"/>
<rect x="1088" y="222" width="1" height="16" fill="#00bfff"/>
<rect x="1087" y="230" width="3" height="8" fill="#00bfff"/>
<rect x="1092" y="222" width="1" height="12" fill="#00bfff"/>
<rect x="1091" y="225" width="3" height="4" fill="#00bfff"/>
<rect x="1096" y="215" width="1" height="29" fill="#ff0000"/>
<rect x="1095" y="228" width="3" height="9" fill="#ff0000"/>
<rect x="1100" y="226" width="1" height="16" fill="#00bfff"/>
<rect x="1099" y="231" width="3" height="7" fill="#00bfff"/>
<rect x="1104" y="226" width="1" height="13" fill="#00bfff"/>
<rect x="1103" y="227" width="3" height="5" fill="#00bfff"/>
<rect x="1108" y="220" width="1" height="16" fill="#00bfff"/>
<rect x="1107" y="225" width="3" height="3" fill="#00bfff"/>
<rect x="1112" y="194" width="1" height="34" fill="#00bfff"/>
<rect x="1111" y="200" width="3" height="26" fill="#00bfff"/>
<rect x="1116" y="193" width="1" height="17" fill="#00ff00"/>
<rect x="1115" y="195" width="3" height="1" fill="#00ff00"/>
<rect x="1120" y="170" width="1" height="31" fill="#00bfff"/>
<rect x="1119" y="171" width="3" height="24" fill="#00bfff"/>
<rect x="1124" y="163" width="1" height="34" fill="#ff0000"/>
<rect x="1123" y="172" width="3" height="16" fill="#ff0000"/>
<rect x="1128" y="177" width="1" height="17" fill="#00bfff"/>
<rect x="1127" y="183" width="3" height="5" fill="#00bfff"/>
<rect x="1132" y="181" width="1" height="22" fill="#ff0000"/>
<rect x="1131" y="183" width="3" height="15" fill="#ff0000"/>
<rect x="1136" y="194" width="1" height="19" fill="#00bfff"/>
<rect x="1135" y="195" width="3" height="6" fill="#00bfff"/>
<rect x="1140" y="184" width="1" height="27" fill="#00bfff"/>
<rect x="1139" y="194" width="3" height="3" fill="#00bfff"/>
<rect x="1144" y="185" width="1" height="20" fill="#00bfff"/>
<rect x="1143" y="191" width="3" height="4" fill="#00bfff"/>
<rect x="1148" y="177" width="1" height="18" fill="#00bfff"/>
<rect x="1147" y="188" width="3" height="4" fill="#00bfff"/>
<rect x="1152" y="169" width="1" height="86" fill="#ff0000"/>
<rect x="1151" y="189" width="3" height="64" fill="#ff0000"/>
<rect x="1156" y="261" width="1" height="49" fill="#ff0000"/>
<rect x="1155" y="277" width="3" height="13" fill="#ff0000"/>
<rect x="1160" y="272" width="1" height="67" fill="#ff0000"/>
<rect x="1159" y="289" width="3" height="48" fill="#ff0000"/>
<rect x="1164" y="292" width="1" height="45" fill="#00bfff"/>
<rect x="1163" y="307" width="3" height="29" fill="#00bfff"/>
<rect x="1168" y="304" width="1" height="21" fill="#ff0000"/>
<rect x="1167" y="307" width="3" height="8" fill="#ff0000"/>
<rect x="1172" y="274" width="1" height="47" fill="#00bfff"/>
<rect x="1171" y="274" width="3" height="43" fill="#00bfff"/>
<rect x="1176" y="250" width="1" height="31" fill="#00bfff"/>
<rect x="1175" y="254" width="3" height="20" fill="#00bfff"/>
<rect x="1180" y="243" width="1" height="20" fill="#00bfff"/>
<rect x="1179" y="251" width="3" height="7" fill="#00bfff"/>
<rect x="1184" y="223" width="1" height="31" fill="#00bfff"/>
<rect x="1183" y="225" width="3" height="27" fill="#00bfff"/>
<rect x="1188" y="214" width="1" height="20" fill="#00bfff"/>
<rect x="1187" y="222" width="3" height="5" fill="#00bfff"/>
<rect x="1192" y="215" width="1" height="19" fill="#00bfff"/>
<rect x="1191" y="216" width="3" height="9" fill="#00bfff"/>
<rect x="1196" y="206" width="1" height="52" fill="#ff0000"/>
<rect x="1195" y="208" width="3" height="41" fill="#ff0000"/>
<rect x="1200" y="238" width="1" height="54" fill="#ff0000"/>
<rect x="1199" y="249" width="3" height="36" fill="#ff0000"/>
<rect x="1204" y="277" width="1" height="51" fill="#ff0000"/>
<rect x="1203" y="285" width="3" height="27" fill="#ff0000"/>
<rect x="1208" y="298" width="1" height="37" fill="#ff0000"/>
<rect x="1207" y="311" width="3" height="13" fill="#ff0000"/>
<rect x="1212" y="301" width="1" height="26" fill="#ff0000"/>
<rect x="1211" y="323" width="3" height="2" fill="#ff0000"/>
<rect x="1216" y="301" width="1" height="25" fill="#00bfff"/>
<rect x="1215" y="305" width="3" height="19" fill="#00bfff"/>
<rect x="1220" y="295" width="1" height="30" fill="#ff0000"/>
<rect x="1219" y="306" width="3" height="4" fill="#ff0000"/>
<rect x="1224" y="272" width="1" height="44" fill="#00bfff"/>
<rect x="1223" y="274" width="3" height="36" fill="#00bfff"/>
<rect x="1228" y="261" width="1" height="20" fill="#00bfff"/>
<rect x="1227" y="269" width="3" height="6" fill="#00bfff"/>
<rect x="1232" y="254" width="1" height="23" fill="#00bfff"/>
<rect x="1231" y="268" width="3" height="1" fill="#00bfff"/>
<rect x="1236" y="268" width="1" height="26" fill="#ff0000"/>
<rect x="1235" y="273" width="3" height="5" fill="#ff0000"/>
<rect x="1240" y="239" width="1" height="42" fill="#00bfff"/>
<rect x="1239" y="248" width="3" height="30" fill="#00bfff"/>
<rect x="1244" y="226" width="1" height="36" fill="#00bfff"/>
<rect x="1243" y="236" width="3" height="13" fill="#00bfff"/>
<rect x="1248" y="235" width="1" height="18" fill="#ff0000"/>
<rect x="1247" y="236" width="3" height="8" fill="#ff0000"/>
<rect x="1252" y="240" width="1" height="17" fill="#ff0000"/>
<rect x="1251" y="243" width="3" height="2" fill="#ff0000"/>
<rect x="1256" y="204" width="1" height="43" fill="#00bfff"/>
<rect x="1255" y="213" width="3" height="34" fill="#00bfff"/>
<rect x="1260" y="199" width="1" height="20" fill="#00bfff"/>
<rect x="1259" y="204" width="3" height="9" fill="#00bfff"/>
<rect x="1264" y="201" width="1" height="25" fill="#ff0000"/>
<rect x="1263" y="205" width="3" height="16" fill="#ff0000"/>
<rect x="1268" y="202" width="1" height="34" fill="#00bfff"/>
<rect x="1267" y="208" width="3" height="13" fill="#00bfff"/>
<rect x="1272" y="196" width="1" height="18" fill="#00bfff"/>
<rect x="1271" y="203" width="3" height="6" fill="#00bfff"/>
<rect x="1276" y="177" width="1" height="31" fill="#ff0000"/>
<rect x="1275" y="197" width="3" height="10" fill="#ff0000"/>
<rect x="1280" y="195" width="1" height="21" fill="#00bfff"/>
<rect x="1279" y="197" width="3" height="8" fill="#00bfff"/>
<rect x="1284" y="175" width="1" height="27" fill="#00bfff"/>
<rect x="1283" y="175" width="3" height="23" fill="#00bfff"/>
<rect x="1288" y="164" width="1" height="21" fill="#00bfff"/>
<rect x="1287" y="166" width="3" height="11" fill="#00bfff"/>
<rect x="1292" y="156" width="1" height="19" fill="#00bfff"/>
<rect x="1291" y="157" width="3" height="10" fill="#00bfff"/>
<rect x="1296" y="157" width="1" height="12" fill="#00bfff"/>
<rect x="1295" y="160" width="3" height="2" fill="#00bfff"/>
</g>
<g shape-rendering="crispEdges">
<rect x="-1" y="791" width="3" height="3" fill="#3cb371"/>
<rect x="3" y="791" width="3" height="2" fill="#3cb371"/>
<rect x="7" y="791" width="3" height="1" fill="#3cb371"/>
<rect x="11" y="790" width="3" height="1" fill="#3cb371"/>
<rect x="15" y="789" width="3" height="2" fill="#3cb371"/>
<rect x="19" y="788" width="3" height="3" fill="#3cb371"/>
<rect x="23" y="784" width="3" height="7" fill="#3cb371"/>
<rect x="27" y="782" width="3" height="9" fill="#3cb371"/>
<rect x="31" y="780" width="3" height="11" fill="#3cb371"/>
<rect x="35" y="779" width="3" height="12" fill="#3cb371"/>
<rect x="39" y="778" width="3" height="13" fill="#3cb371"/>
<rect x="43" y="777" width="3" height="14" fill="#3cb371"/>
<rect x="47" y="777" width="3" height="14" fill="#3cb371"/>
<rect x="51" y="777" width="3" height="14" fill="#3cb371"/>
<rect x="55" y="777" width="3" height="14" fill="#3cb371"/>
<rect x="59" y="777" width="3" height="14" fill="#3cb371"/>
<rect x="63" y="777" width="3" height="14" fill="#3cb371"/>
<rect x="67" y="777" width="3" height="14" fill="#3cb371"/>
<rect x="71" y="777" width="3" height="14" fill="#3cb371"/>
<rect x="75" y="777" width="3" height="14" fill="#3cb371"/>
<rect x="79" y="778" width="3" height="13" fill="#3cb371"/>
<rect x="83" y="779" width="3" height="12" fill="#3cb371"/>
<rect x="87" y="779" width="3" height="12" fill="#3cb371"/>
<rect x="91" y="781" width="3" height="10" fill="#3cb371"/>
<rect x="95" y="784" width="3" height="7" fill="#3cb371"/>
<rect x="99" y="785" width="3" height="6" fill="#3cb371"/>
<rect x="103" y="786" width="3" height="5" fill="#3cb371"/>
<rect x="107" y="788" width="3" height="3" fill="#3cb371"/>
<rect x="111" y="788" width="3" height="3" fill="#3cb371"/>
<rect x="115" y="789" width="3" height="2" fill="#3cb371"/>
<rect x="119" y="789" width="3" height="2" fill="#3cb371"/>
<rect x="123" y="790" width="3" height="1" fill="#3cb371"/>
<rect x="127" y="791" width="3" height="1" fill="#3cb371"/>
<rect x="131" y="791" width="3" height="1" fill="#3cb371"/>
<rect x="135" y="791" width="3" height="2" fill="#3cb371"/>
<rect x="139" y="791" width="3" height="2" fill="#3cb371"/>
<rect x="143" y="791" width="3" height="3" fill="#3cb371"/>
<rect x="147" y="791" width="3" height="4" fill="#3cb371"/>
<rect x="151" y="791" width="3" height="6" fill="#3cb371"/>
<rect x="155" y="791" width="3" height="8" fill="#3cb371"/>
<rect x="159" y="791" width="3" height="10" fill="#3cb371"/>
<rect x="163" y="791" width="3" height="11" fill="#3cb371"/>
<rect x="167" y="791" width="3" height="11" fill="#3cb371"/>
<rect x="171" y="791" width="3" height="9" fill="#3cb371"/>
<rect x="175" y="791" width="3" height="9" fill="#3cb371"/>
<rect x="179" y="791" width="3" height="10" fill="#3cb371"/>
<rect x="183" y="791" width="3" height="10" fill="#3cb371"/>
<rect x="187" y="791" width="3" height="10" fill="#3cb371"/>
<rect x="191" y="791" width="3" height="11" fill="#3cb371"/>
<rect x="195" y="791" width="3" height="13" fill="#3cb371"/>
<rect x="199" y="791" width="3" height="14" fill="#3cb371"/>
<rect x="203" y="791" width="3" height="15" fill="#3cb371"/>
<rect x="207" y="791" width="3" height="16" fill="#3cb371"/>
<rect x="211" y="791" width="3" height="16" fill="#3cb371"/>
<rect x="215" y="791" width="3" height="16" fill="#3cb371"/>
<rect x="219" y="791" width="3" height="15" fill="#3cb371"/>
<rect x="223" y="791" width="3" height="14" fill="#3cb371"/>
<rect x="227" y="791" width="3" height="14" fill="#3cb371"/>
<rect x="231" y="791" width="3" height="14" fill="#3cb371"/>
<rect x="235" y="791" width="3" height="15" fill="#3cb371"/>
<rect x="239" y="791" width="3" height="15" fill="#3cb371"/>
<rect x="243" y="791" width="3" height="16" fill="#3cb371"/>
<rect x="247" y="791" width="3" height="16" fill="#3cb371"/>
<rect x="251" y="791" width="3" height="15" fill="#3cb371"/>
<rect x="255" y="791" width="3" height="15" fill="#3cb371"/>
<rect x="259" y="791" width="3" height="14" fill="#3cb371"/>
<rect x="263" y="791" width="3" height="13" fill="#3cb371"/>
<rect x="267" y="791" width="3" height="11" fill="#3cb371"/>
<rect x="271" y="791" width="3" height="11" fill="#3cb371"/>
<rect x="275" y="791" width="3" height="10" fill="#3cb371"/>
<rect x="279" y="791" width="3" height="9" fill="#3cb371"/>
<rect x="283" y="791" width="3" height="7" fill="#3cb371"/>
<rect x="287" y="791" width="3" height="6" fill="#3cb371"/>
<rect x="291" y="791" width="3" height="4" fill="#3cb371"/>
<rect x="295" y="791" width="3" height="3" fill="#3cb371"/>
<rect x="299" y="791" width="3" height="2" fill="#3cb371"/>
<rect x="303" y="791" width="3" height="2" fill="#3cb371"/>
<rect x="307" y="791" width="3" height="2" fill="#3cb371"/>
<rect x="311" y="791" width="3" height="2" fill="#3cb371"/>
<rect x="315" y="791" width="3" height="5" fill="#3cb371"/>
<rect x="319" y="791" width="3" height="7" fill="#3cb371"/>
<rect x="323" y="791" width="3" height="7" fill="#3cb371"/>
<rect x="327" y="791" width="3" height="9" fill="#3cb371"/>
<rect x="331" y="791" width="3" height="8" fill="#3cb371"/>
<rect x="335" y="791" width="3" height="11" fill="#3cb371"/>
<rect x="339" y="791" width="3" height="14" fill="#3cb371"/>
<rect x="343" y="791" width="3" height="16" fill="#3cb371"/>
<rect x="347" y="791" width="3" height="17" fill="#3cb371"/>
<rect x="351" y="791" width="3" height="19" fill="#3cb371"/>
<rect x="355" y="791" width="3" height="20" fill="#3cb371"/>
<rect x="359" y="791" width="3" height="21" fill="#3cb371"/>
<rect x="363" y="791" width="3" height="23" fill="#3cb371"/>
<rect x="367" y="791" width="3" height="23" fill="#3cb371"/>
<rect x="371" y="791" width="3" height="21" fill="#3cb371"/>
<rect x="375" y="791" width="3" height="20" fill="#3cb371"/>
<rect x="379" y="791" width="3" height="19" fill="#3cb371"/>
<rect x="383" y="791" width="3" height="18" fill="#3cb371"/>
<rect x="387" y="791" width="3" height="18" fill="#3cb371"/>
<rect x="391" y="791" width="3" height="17" fill="#3cb371"/>
<rect x="395" y="791" width="3" height="13" fill="#3cb371"/>
<rect x="399" y="791" width="3" height="11" fill="#3cb371"/>
<rect x="403" y="791" width="3" height="10" fill="#3cb371"/>
<rect x="407" y="791" width="3" height="11" fill="#3cb371"/>
<rect x="411" y="791" width="3" height="10" fill="#3cb371"/>
<rect x="415" y="791" width="3" height="7" fill="#3cb371"/>
<rect x="419" y="791" width="3" height="5" fill="#3cb371"/>
<rect x="423" y="791" width="3" height="1" fill="#3cb371"/>
<rect x="427" y="790" width="3" height="1" fill="#3cb371"/>
<rect x="431" y="789" width="3" height="2" fill="#3cb371"/>
<rect x="435" y="789" width="3" height="2" fill="#3cb371"/>
<rect x="439" y="789" width="3" height="2" fill="#3cb371"/>
<rect x="443" y="790" width="3" height="1" fill="#3cb371"/>
<rect x="447" y="790" width="3" height="1" fill="#3cb371"/>
<rect x="451" y="791" width="3" height="1" fill="#3cb371"/>
<rect x="455" y="791" width="3" height="2" fill="#3cb371"/>
<rect x="459" y="791" width="3" height="3" fill="#3cb371"/>
<rect x="463" y="791" width="3" height="5" fill="#3cb371"/>
<rect x="467" y="791" width="3" height="4" fill="#3cb371"/>
<rect x="471" y="791" width="3" height="3" fill="#3cb371"/>
<rect x="475" y="791" width="3" height="3" fill="#3cb371"/>
<rect x="479" y="791" width="3" height="3" fill="#3cb371"/>
<rect x="483" y="791" width="3" height="5" fill="#3cb371"/>
<rect x="487" y="791" width="3" height="4" fill="#3cb371"/>
<rect x="491" y="791" width="3" height="5" fill="#3cb371"/>
<rect x="495" y="791" width="3" height="5" fill="#3cb371"/>
<rect x="499" y="791" width="3" height="4" fill="#3cb371"/>
<rect x="503" y="791" width="3" height="3" fill="#3cb371"/>
<rect x="507" y="791" width="3" height="2" fill="#3cb371"/>
<rect x="511" y="791" width="3" height="2" fill="#3cb371"/>
<rect x="515" y="791" width="3" height="2" fill="#3cb371"/>
<rect x="519" y="791" width="3" height="2" fill="#3cb371"/>
<rect x="523" y="791" width="3" height="1" fill="#3cb371"/>
<rect x="527" y="791" width="3" height="1" fill="#3cb371"/>
<rect x="531" y="790" width="3" height="1" fill="#3cb371"/>
<rect x="535" y="790" width="3" height="1" fill="#3cb371"/>
<rect x="539" y="789" width="3" height="2" fill="#3cb371"/>
<rect x="543" y="788" width="3" height="3" fill="#3cb371"/>
<rect x="547" y="788" width="3" height="3" fill="#3cb371"/>
<rect x="551" y="788" width="3" height="3" fill="#3cb371"/>
<rect x="555" y="789" width="3" height="2" fill="#3cb371"/>
<rect x="559" y="790" width="3" height="1" fill="#3cb371"/>
<rect x="563" y="790" width="3" height="1" fill="#3cb371"/>
<rect x="567" y="791" width="3" height="1" fill="#3cb371"/>
<rect x="571" y="791" width="3" height="2" fill="#3cb371"/>
<rect x="575" y="791" width="3" height="1" fill="#3cb371"/>
<rect x="579" y="791" width="3" height="1" fill="#3cb371"/>
<rect x="583" y="790" width="3" height="1" fill="#3cb371"/>
<rect x="587" y="789" width="3" height="2" fill="#3cb371"/>
<rect x="591" y="788" width="3" height="3" fill="#3cb371"/>
<rect x="595" y="788" width="3" height="3" fill="#3cb371"/>
<rect x="599" y="786" width="3" height="5" fill="#3cb371"/>
<rect x="603" y="785" width="3" height="6" fill="#3cb371"/>
<rect x="607" y="783" width="3" height="8" fill="#3cb371"/>
<rect x="611" y="782" width="3" height="9" fill="#3cb371"/>
<rect x="615" y="781" width="3" height="10" fill="#3cb371"/>
<rect x="619" y="781" width="3" height="10" fill="#3cb371"/>
<rect x="623" y="781" width="3" height="10" fill="#3cb371"/>
<rect x="627" y="783" width="3" height="8" fill="#3cb371"/>
<rect x="631" y="784" width="3" height="7" fill="#3cb371"/>
<rect x="635" y="785" width="3" height="6" fill="#3cb371"/>
<rect x="639" y="784" width="3" height="7" fill="#3cb371"/>
<rect x="643" y="784" width="3" height="7" fill="#3cb371"/>
<rect x="647" y="784" width="3" height="7" fill="#3cb371"/>
<rect x="651" y="782" width="3" height="9" fill="#3cb371"/>
<rect x="655" y="781" width="3" height="10" fill="#3cb371"/>
<rect x="659" y="782" width="3" height="9" fill="#3cb371"/>
<rect x="663" y="784" width="3" height="7" fill="#3cb371"/>
<rect x="667" y="785" width="3" height="6" fill="#3cb371"/>
<rect x="671" y="786" width="3" height="5" fill="#3cb371"/>
<rect x="675" y="787" width="3" height="4" fill="#3cb371"/>
<rect x="679" y="787" width="3" height="4" fill="#3cb371"/>
<rect x="683" y="787" width="3" height="4" fill="#3cb371"/>
<rect x="687" y="787" width="3" height="4" fill="#3cb371"/>
<rect x="691" y="788" width="3" height="3" fill="#3cb371"/>
<rect x="695" y="788" width="3" height="3" fill="#3cb371"/>
<rect x="699" y="789" width="3" height="2" fill="#3cb371"/>
<rect x="703" y="789" width="3" height="2" fill="#3cb371"/>
<rect x="707" y="789" width="3" height="2" fill="#3cb371"/>
<rect x="711" y="790" width="3" height="1" fill="#3cb371"/>
<rect x="715" y="789" width="3" height="2" fill="#3cb371"/>
<rect x="719" y="790" width="3" height="1" fill="#3cb371"/>
<rect x="723" y="790" width="3" height="1" fill="#3cb371"/>
<rect x="727" y="790" width="3" height="1" fill="#3cb371"/>
<rect x="731" y="790" width="3" height="1" fill="#3cb371"/>
<rect x="735" y="791" width="3" height="1" fill="#3cb371"/>
<rect x="739" y="791" width="3" height="1" fill="#3cb371"/>
<rect x="743" y="791" width="3" height="1" fill="#3cb371"/>
<rect x="747" y="790" width="3" height="1" fill="#3cb371"/>
<rect x="751" y="790" width="3" height="1" fill="#3cb371"/>
<rect x="755" y="790" width="3" height="1" fill="#3cb371"/>
<rect x="759" y="790" width="3" height="1" fill="#3cb371"/>
<rect x="763" y="790" width="3" height="1" fill="#3cb371"/>
<rect x="767" y="790" width="3" height="1" fill="#3cb371"/>
<rect x="771" y="790" width="3" height="1" fill="#3cb371"/>
<rect x="775" y="791" width="3" height="1" fill="#3cb371"/>
<rect x="779" y="791" width="3" height="1" fill="#3cb371"/>
<rect x="783" y="791" width="3" height="1" fill="#3cb371"/>
<rect x="787" y="791" width="3" height="1" fill="#3cb371"/>
<rect x="791" y="791" width="3" height="1" fill="#3cb371"/>
<rect x="795" y="791" width="3" height="1" fill="#3cb371"/>
<rect x="799" y="791" width="3" height="1" fill="#3cb371"/>
<rect x="803" y="791" width="3" height="1" fill="#3cb371"/>
<rect x="807" y="791" width="3" height="1" fill="#3cb371"/>
<rect x="811" y="790" width="3" height="1" fill="#3cb371"/>
<rect x="815" y="788" width="3" height="3" fill="#3cb371"/>
<rect x="819" y="787" width="3" height="4" fill="#3cb371"/>
<rect x="823" y="787" width="3" height="4" fill="#3cb371"/>
<rect x="827" y="788" width="3" height="3" fill="#3cb371"/>
<rect x="831" y="789" width="3" height="2" fill="#3cb371"/>
<rect x="835" y="790" width="3" height="1" fill="#3cb371"/>
<rect x="839" y="790" width="3" height="1" fill="#3cb371"/>
<rect x="843" y="789" width="3" height="2" fill="#3cb371"/>
<rect x="847" y="786" width="3" height="5" fill="#3cb371"/>
<rect x="851" y="783" width="3" height="8" fill="#3cb371"/>
<rect x="855" y="781" width="3" height="10" fill="#3cb371"/>
<rect x="859" y="780" width="3" height="11" fill="#3cb371"/>
<rect x="863" y="779" width="3" height="12" fill="#3cb371"/>
<rect x="867" y="779" width="3" height="12" fill="#3cb371"/>
<rect x="871" y="780" width="3" height="11" fill="#3cb371"/>
<rect x="875" y="781" width="3" height="10" fill="#3cb371"/>
<rect x="879" y="782" width="3" height="9" fill="#3cb371"/>
<rect x="883" y="782" width="3" height="9" fill="#3cb371"/>
<rect x="887" y="782" width="3" height="9" fill="#3cb371"/>
<rect x="891" y="782" width="3" height="9" fill="#3cb371"/>
<rect x="895" y="781" width="3" height="10" fill="#3cb371"/>
<rect x="899" y="781" width="3" height="10" fill="#3cb371"/>
<rect x="903" y="780" width="3" height="11" fill="#3cb371"/>
<rect x="907" y="781" width="3" height="10" fill="#3cb371"/>
<rect x="911" y="781" width="3" height="10" fill="#3cb371"/>
<rect x="915" y="780" width="3" height="11" fill="#3cb371"/>
<rect x="919" y="779" width="3" height="12" fill="#3cb371"/>
<rect x="923" y="779" width="3" height="12" fill="#3cb371"/>
<rect x="927" y="779" width="3" height="12" fill="#3cb371"/>
<rect x="931" y="779" width="3" height="12" fill="#3cb371"/>
<rect x="935" y="780" width="3" height="11" fill="#3cb371"/>
<rect x="939" y="781" width="3" height="10" fill="#3cb371"/>
<rect x="943" y="780" width="3" height="11" fill="#3cb371"/>
<rect x="947" y="781" width="3" height="10" fill="#3cb371"/>
<rect x="951" y="780" width="3" height="11" fill="#3cb371"/>
<rect x="955" y="780" width="3" height="11" fill="#3cb371"/>
<rect x="959" y="781" width="3" height="10" fill="#3cb371"/>
<rect x="963" y="780" width="3" height="11" fill="#3cb371"/>
<rect x="967" y="780" width="3" height="11" fill="#3cb371"/>
<rect x="971" y="778" width="3" height="13" fill="#3cb371"/>
<rect x="975" y="777" width="3" height="14" fill="#3cb371"/>
<rect x="979" y="777" width="3" height="14" fill="#3cb371"/>
<rect x="983" y="777" width="3" height="14" fill="#3cb371"/>
<rect x="987" y="778" width="3" height="13" fill="#3cb371"/>
<rect x="991" y="778" width="3" height="13" fill="#3cb371"/>
<rect x="995" y="779" width="3" height="12" fill="#3cb371"/>
<rect x="999" y="779" width="3" height="12" fill="#3cb371"/>
<rect x="1003" y="781" width="3" height="10" fill="#3cb371"/>
<rect x="1007" y="781" width="3" height="10" fill="#3cb371"/>
<rect x="1011" y="783" width="3" height="8" fill="#3cb371"/>
<rect x="1015" y="784" width="3" height="7" fill="#3cb371"/>
<rect x="1019" y="785" width="3" height="6" fill="#3cb371"/>
<rect x="1023" y="785" width="3" height="6" fill="#3cb371"/>
<rect x="1027" y="784" width="3" height="7" fill="#3cb371"/>
<rect x="1031" y="785" width="3" height="6" fill="#3cb371"/>
<rect x="1035" y="785" width="3" height="6" fill="#3cb371"/>
<rect x="1039" y="786" width="3" height="5" fill="#3cb371"/>
<rect x="1043" y="787" width="3" height="4" fill="#3cb371"/>
<rect x="1047" y="788" width="3" height="3" fill="#3cb371"/>
<rect x="1051" y="788" width="3" height="3" fill="#3cb371"/>
<rect x="1055" y="788" width="3" height="3" fill="#3cb371"/>
<rect x="1059" y="787" width="3" height="4" fill="#3cb371"/>
<rect x="1063" y="786" width="3" height="5" fill="#3cb371"/>
<rect x="1067" y="787" width="3" height="4" fill="#3cb371"/>
<rect x="1071" y="787" width="3" height="4" fill="#3cb371"/>
<rect x="1075" y="787" width="3" height="4" fill="#3cb371"/>
<rect x="1079" y="787" width="3" height="4" fill="#3cb371"/>
<rect x="1083" y="787" width="3" height="4" fill="#3cb371"/>
<rect x="1087" y="787" width="3" height="4" fill="#3cb371"/>
<rect x="1091" y="787" width="3" height="4" fill="#3cb371"/>
<rect x="1095" y="787" width="3" height="4" fill="#3cb371"/>
<rect x="1099" y="787" width="3" height="4" fill="#3cb371"/>
<rect x="1103" y="787" width="3" height="4" fill="#3cb371"/>
<rect x="1107" y="787" width="3" height="4" fill="#3cb371"/>
<rect x="1111" y="787" width="3" height="4" fill="#3cb371"/>
<rect x="1115" y="786" width="3" height="5" fill="#3cb371"/>
<rect x="1119" y="784" width="3" height="7" fill="#3cb371"/>
<rect x="1123" y="784" width="3" height="7" fill="#3cb371"/>
<rect x="1127" y="783" width="3" height="8" fill="#3cb371"/>
<rect x="1131" y="784" width="3" height="7" fill="#3cb371"/>
<rect x="1135" y="784" width="3" height="7" fill="#3cb371"/>
<rect x="1139" y="784" width="3" height="7" fill="#3cb371"/>
<rect x="1143" y="784" width="3" height="7" fill="#3cb371"/>
<rect x="1147" y="784" width="3" height="7" fill="#3cb371"/>
<rect x="1151" y="787" width="3" height="4" fill="#3cb371"/>
<rect x="1155" y="790" width="3" height="1" fill="#3cb371"/>
<rect x="1159" y="791" width="3" height="3" fill="#3cb371"/>
<rect x="1163" y="791" width="3" height="5" fill="#3cb371"/>
<rect x="1167" y="791" width="3" height="7" fill="#3cb371"/>
<rect x="1171" y="791" width="3" height="7" fill="#3cb371"/>
<rect x="1175" y="791" width="3" height="7" fill="#3cb371"/>
<rect x="1179" y="791" width="3" height="6" fill="#3cb371"/>
<rect x="1183" y="791" width="3" height="4" fill="#3cb371"/>
<rect x="1187" y="791" width="3" height="3" fill="#3cb371"/>
<rect x="1191" y="791" width="3" height="2" fill="#3cb371"/>
<rect x="1195" y="791" width="3" height="2" fill="#3cb371"/>
<rect x="1199" y="791" width="3" height="3" fill="#3cb371"/>
<rect x="1203" y="791" width="3" height="5" fill="#3cb371"/>
<rect x="1207" y="791" width="3" height="7" fill="#3cb371"/>
<rect x="1211" y="791" width="3" height="8" fill="#3cb371"/>
<rect x="1215" y="791" width="3" height="9" fill="#3cb371"/>
<rect x="1219" y="791" width="3" height="9" fill="#3cb371"/>
<rect x="1223" y="791" width="3" height="8" fill="#3cb371"/>
<rect x="1227" y="791" width="3" height="7" fill="#3cb371"/>
<rect x="1231" y="791" width="3" height="6" fill="#3cb371"/>
<rect x="1235" y="791" width="3" height="5" fill="#3cb371"/>
<rect x="1239" y="791" width="3" height="4" fill="#3cb371"/>
<rect x="1243" y="791" width="3" height="2" fill="#3cb371"/>
<rect x="1247" y="791" width="3" height="1" fill="#3cb371"/>
<rect x="1251" y="791" width="3" height="1" fill="#3cb371"/>
<rect x="1255" y="790" width="3" height="1" fill="#3cb371"/>
<rect x="1259" y="788" width="3" height="3" fill="#3cb371"/>
<rect x="1263" y="787" width="3" height="4" fill="#3cb371"/>
<rect x="1267" y="787" width="3" height="4" fill="#3cb371"/>
<rect x="1271" y="786" width="3" height="5" fill="#3cb371"/>
<rect x="1275" y="785" width="3" height="6" fill="#3cb371"/>
<rect x="1279" y="785" width="3" height="6" fill="#3cb371"/>
<rect x="1283" y="783" width="3" height="8" fill="#3cb371"/>
<rect x="1287" y="782" width="3" height="9" fill="#3cb371"/>
<rect x="1291" y="781" width="3" height="10" fill="#3cb371"/>
<rect x="1295" y="780" width="3" height="11" fill="#3cb371"/>
<polyline points="0.5,795.2 4.5,795.2 8.5,794.9 12.5,794.3 16.5,793.5 20.5,792.6 24.5,791.2 28.5,789.7 32.5,788.1 36.5,786.4 40.5,784.7 44.5,783.0 48.5,781.5 52.5,780.2 56.5,779.0 60.5,778.2 64.5,777.6 68.5,777.2 72.5,777.0 76.5,776.9 80.5,777.1 84.5,777.3 88.5,777.5 92.5,778.0 96.5,778.7 100.5,779.6 104.5,780.6 108.5,781.8 112.5,783.0 116.5,784.2 120.5,785.3 124.5,786.6 128.5,787.8 132.5,788.7 136.5,789.6 140.5,790.4 144.5,791.1 148.5,791.9 152.5,792.8 156.5,793.9 160.5,795.0 164.5,796.2 168.5,797.3 172.5,798.1 176.5,798.8 180.5,799.6 184.5,800.3 188.5,800.8 192.5,801.1 196.5,801.4 200.5,801.8 204.5,802.2 208.5,802.9 212.5,803.7 216.5,804.4 220.5,804.8 224.5,805.3 228.5,805.6 232.5,805.8 236.5,805.9 240.5,806.0 244.5,806.0 248.5,806.0 252.5,806.0 256.5,806.1 260.5,806.1 264.5,805.9 268.5,805.6 272.5,805.1 276.5,804.5 280.5,803.7 284.5,802.7 288.5,801.6 292.5,800.4 296.5,799.1 300.5,797.9 304.5,796.9 308.5,795.9 312.5,795.1 316.5,794.7 320.5,794.7 324.5,794.9 328.5,795.3 332.5,796.0 336.5,796.9 340.5,798.2 344.5,799.7 348.5,801.4 352.5,803.0 356.5,804.5 360.5,806.1 364.5,807.6 368.5,809.2 372.5,810.4 376.5,811.1 380.5,811.4 384.5,811.5 388.5,811.4 392.5,810.9 396.5,810.1 400.5,808.8 404.5,807.4 408.5,806.3 412.5,805.1 416.5,803.7 420.5,802.3 424.5,800.4 428.5,798.5 432.5,796.7 436.5,795.3 440.5,793.9 444.5,792.5 448.5,791.4 452.5,790.7 456.5,790.4 460.5,790.6 464.5,791.2 468.5,791.9 472.5,792.6 476.5,793.2 480.5,793.7 484.5,794.3 488.5,794.7 492.5,795.0 496.5,795.2 500.5,795.1 504.5,795.0 508.5,794.8 512.5,794.6 516.5,794.5 520.5,794.2 524.5,793.9 528.5,793.4 532.5,792.8 536.5,792.3 540.5,791.7 544.5,791.2 548.5,790.7 552.5,790.2 556.5,789.8 560.5,789.5 564.5,789.4 568.5,789.5 572.5,789.8 576.5,790.1 580.5,790.5 584.5,790.8 588.5,790.9 592.5,790.8 596.5,790.5 600.5,790.1 604.5,789.3 608.5,788.2 612.5,787.2 616.5,786.0 620.5,784.9 624.5,784.0 628.5,783.4 632.5,783.0 636.5,782.8 640.5,782.7 644.5,782.8 648.5,782.9 652.5,783.0 656.5,783.0 660.5,783.1 664.5,783.3 668.5,783.3 672.5,783.4 676.5,783.7 680.5,784.0 684.5,784.4 688.5,785.0 692.5,785.8 696.5,786.4 700.5,787.0 704.5,787.5 708.5,787.8 712.5,788.2 716.5,788.4 720.5,788.7 724.5,789.0 728.5,789.3 732.5,789.5 736.5,789.8 740.5,790.1 744.5,790.3 748.5,790.5 752.5,790.6 756.5,790.6 760.5,790.6 764.5,790.7 768.5,790.7 772.5,790.7 776.5,790.6 780.5,790.6 784.5,790.6 788.5,790.8 792.5,791.1 796.5,791.3 800.5,791.4 804.5,791.5 808.5,791.5 812.5,791.4 816.5,791.1 820.5,790.6 824.5,790.1 828.5,789.7 832.5,789.4 836.5,789.3 840.5,789.2 844.5,788.9 848.5,788.5 852.5,787.9 856.5,787.1 860.5,786.3 864.5,785.4 868.5,784.3 872.5,783.1 876.5,782.0 880.5,781.3 884.5,780.9 888.5,780.8 892.5,780.9 896.5,781.0 900.5,781.2 904.5,781.3 908.5,781.4 912.5,781.4 916.5,781.2 920.5,780.8 924.5,780.5 928.5,780.1 932.5,779.9 936.5,779.8 940.5,779.8 944.5,779.8 948.5,779.7 952.5,779.8 956.5,779.9 960.5,780.1 964.5,780.2 968.5,780.3 972.5,780.1 976.5,779.8 980.5,779.4 984.5,779.0 988.5,778.7 992.5,778.4 996.5,778.2 1000.5,778.1 1004.5,778.2 1008.5,778.5 1012.5,779.1 1016.5,779.8 1020.5,780.7 1024.5,781.5 1028.5,782.2 1032.5,782.9 1036.5,783.5 1040.5,784.1 1044.5,784.7 1048.5,785.3 1052.5,785.8 1056.5,786.3 1060.5,786.5 1064.5,786.7 1068.5,786.9 1072.5,787.1 1076.5,787.2 1080.5,787.3 1084.5,787.2 1088.5,787.1 1092.5,787.0 1096.5,787.0 1100.5,787.2 1104.5,787.3 1108.5,787.3 1112.5,787.3 1116.5,787.1 1120.5,786.7 1124.5,786.4 1128.5,785.9 1132.5,785.5 1136.5,785.1 1140.5,784.8 1144.5,784.4 1148.5,784.2 1152.5,784.3 1156.5,785.0 1160.5,786.1 1164.5,787.6 1168.5,789.2 1172.5,790.8 1176.5,792.3 1180.5,793.7 1184.5,794.9 1188.5,795.7 1192.5,796.0 1196.5,795.8 1200.5,795.6 1204.5,795.3 1208.5,795.2 1212.5,795.4 1216.5,795.7 1220.5,796.2 1224.5,796.8 1228.5,797.4 1232.5,797.8 1236.5,798.1 1240.5,798.0 1244.5,797.5 1248.5,796.7 1252.5,795.8 1256.5,794.6 1260.5,793.4 1264.5,792.3 1268.5,791.1 1272.5,789.9 1276.5,788.9 1280.5,787.9 1284.5,786.9 1288.5,785.9 1292.5,784.9 1296.5,784.1" fill="none" stroke="#ff0000" stroke-width="1"/>
<polyline points="0.5,834.6 4.5,834.3 8.5,832.8 12.5,832.2 16.5,833.7 20.5,831.8 24.5,829.2 28.5,831.1 32.5,830.4 36.5,830.5 40.5,829.7 44.5,829.9 48.5,832.1 52.5,831.6 56.5,831.2 60.5,831.7 64.5,831.3 68.5,830.7 72.5,830.4 76.5,831.0 80.5,832.0 84.5,832.8 88.5,831.9 92.5,835.5 96.5,837.8 100.5,835.7 104.5,836.8 108.5,837.0 112.5,835.2 116.5,836.1 120.5,836.2 124.5,838.6 128.5,836.6 132.5,837.2 136.5,838.6 140.5,836.9 144.5,837.6 148.5,838.2 152.5,840.5 156.5,841.8 160.5,841.6 164.5,840.3 168.5,839.4 172.5,836.0 176.5,838.2 180.5,838.8 184.5,839.7 188.5,838.7 192.5,839.5 196.5,841.4 200.5,841.7 204.5,840.7 208.5,841.5 212.5,841.2 216.5,839.8 220.5,838.3 224.5,839.8 228.5,839.1 232.5,840.2 236.5,841.3 240.5,841.1 244.5,841.9 248.5,840.7 252.5,839.7 256.5,840.3 260.5,838.5 264.5,837.5 268.5,837.3 272.5,838.3 276.5,838.1 280.5,837.0 284.5,834.3 288.5,835.9 292.5,834.7 296.5,834.0 300.5,836.4 304.5,836.0 308.5,836.7 312.5,837.3 316.5,841.4 320.5,839.7 324.5,838.2 328.5,840.0 332.5,837.7 336.5,840.9 340.5,841.6 344.5,841.9 348.5,841.5 352.5,842.6 356.5,841.6 360.5,841.8 364.5,842.8 368.5,841.6 372.5,838.6 376.5,839.5 380.5,838.0 384.5,839.6 388.5,839.1 392.5,838.0 396.5,835.3 400.5,835.8 404.5,837.2 408.5,838.5 412.5,836.7 416.5,834.6 420.5,835.2 424.5,832.5 428.5,833.7 432.5,834.4 436.5,835.6 440.5,835.6 444.5,836.5 448.5,836.8 452.5,837.7 456.5,837.2 460.5,838.8 464.5,838.4 468.5,836.4 472.5,835.8 476.5,836.6 480.5,836.9 484.5,838.5 488.5,836.6 492.5,838.0 496.5,836.9 500.5,835.3 504.5,835.6 508.5,835.3 512.5,835.7 516.5,837.2 520.5,836.3 524.5,835.4 528.5,834.6 532.5,835.0 536.5,834.4 540.5,833.5 544.5,833.5 548.5,835.8 552.5,835.1 556.5,836.7 560.5,836.1 564.5,837.3 568.5,838.3 572.5,837.7 576.5,835.4 580.5,836.2 584.5,833.7 588.5,832.9 592.5,833.5 596.5,833.7 600.5,831.9 604.5,831.5 608.5,830.2 612.5,832.5 616.5,831.5 620.5,831.2 624.5,834.2 628.5,835.5 632.5,835.7 636.5,834.8 640.5,833.7 644.5,832.6 648.5,832.8 652.5,831.3 656.5,830.0 660.5,835.8 664.5,836.2 668.5,835.4 672.5,835.8 676.5,836.2 680.5,835.3 684.5,834.6 688.5,835.2 692.5,836.0 696.5,835.3 700.5,836.4 704.5,835.1 708.5,835.6 712.5,836.2 716.5,834.3 720.5,837.0 724.5,835.5 728.5,836.2 732.5,836.1 736.5,837.0 740.5,836.7 744.5,836.4 748.5,834.2 752.5,834.8 756.5,834.0 760.5,836.4 764.5,836.1 768.5,836.3 772.5,836.1 776.5,836.8 780.5,835.6 784.5,836.4 788.5,838.3 792.5,837.0 796.5,834.8 800.5,834.9 804.5,835.5 808.5,835.8 812.5,832.9 816.5,831.4 820.5,832.3 824.5,834.7 828.5,836.1 832.5,837.8 836.5,837.3 840.5,836.6 844.5,831.8 848.5,830.1 852.5,829.3 856.5,829.0 860.5,832.9 864.5,831.6 868.5,832.4 872.5,833.8 876.5,834.8 880.5,834.5 884.5,834.3 888.5,832.7 892.5,832.6 896.5,831.8 900.5,831.5 904.5,831.5 908.5,833.3 912.5,832.3 916.5,830.5 920.5,831.0 924.5,830.6 928.5,832.1 932.5,831.4 936.5,833.9 940.5,833.3 944.5,832.2 948.5,832.1 952.5,831.2 956.5,831.9 960.5,832.0 964.5,830.8 968.5,830.4 972.5,828.3 976.5,828.0 980.5,831.1 984.5,830.5 988.5,832.6 992.5,831.9 996.5,832.4 1000.5,832.7 1004.5,834.4 1008.5,833.6 1012.5,835.1 1016.5,835.5 1020.5,834.9 1024.5,833.7 1028.5,831.9 1032.5,834.2 1036.5,835.2 1040.5,834.7 1044.5,836.1 1048.5,837.2 1052.5,835.0 1056.5,835.5 1060.5,831.7 1064.5,833.3 1068.5,834.9 1072.5,835.4 1076.5,834.3 1080.5,835.4 1084.5,834.7 1088.5,834.3 1092.5,833.9 1096.5,835.0 1100.5,834.5 1104.5,834.2 1108.5,834.0 1112.5,832.0 1116.5,831.6 1120.5,830.1 1124.5,832.1 1128.5,831.8 1132.5,833.5 1136.5,833.2 1140.5,833.1 1144.5,832.9 1148.5,832.6 1152.5,839.1 1156.5,841.3 1160.5,843.3 1164.5,840.7 1168.5,841.0 1172.5,837.9 1176.5,836.5 1180.5,836.3 1184.5,834.7 1188.5,834.6 1192.5,834.2 1196.5,836.5 1200.5,838.6 1204.5,839.9 1208.5,840.5 1212.5,840.5 1216.5,838.9 1220.5,839.2 1224.5,836.5 1228.5,836.1 1232.5,836.1 1236.5,836.8 1240.5,834.6 1244.5,833.9 1248.5,834.5 1252.5,834.6 1256.5,832.5 1260.5,832.0 1264.5,833.6 1268.5,832.7 1272.5,832.4 1276.5,832.8 1280.5,832.1 1284.5,830.8 1288.5,830.3 1292.5,829.8 1296.5,830.2" fill="none" stroke="#1e90ff" stroke-width="1"/>
</g>
<g fill="#ffffff" stroke="#ffffff" stroke-width="0.9" stroke-linejoin="round" font-weight="bold">
<text x="601.8" y="43.6" font-size="26.3px" textLength="121.3" lengthAdjust="spacingAndGlyphs">USDJPY</text>
<text x="583.4" y="82.3" font-size="27px" textLength="162.6" lengthAdjust="spacingAndGlyphs">Daily Chart</text>
</g>
<text class="ann" x="1483" y="27.3" textLength="71" lengthAdjust="spacingAndGlyphs" fill="#ffffff" stroke="#ffffff" stroke-width="0.6">163.80</text>
<text class="ann" x="1390" y="97.3" textLength="72" lengthAdjust="spacingAndGlyphs" fill="#ffffff" stroke="#ffffff" stroke-width="0.6">161.95</text>
<text class="ann" x="1338" y="139.5" textLength="72.3" lengthAdjust="spacingAndGlyphs" fill="#ffffff" stroke="#ffffff" stroke-width="0.6">160.20</text>
<text class="ann" x="1331.3" y="223.6" textLength="104.3" lengthAdjust="spacingAndGlyphs" fill="#1e90ff" stroke="#1e90ff" stroke-width="0.6">157.25-65</text>
<text class="ann" x="1367.4" y="324.3" textLength="71" lengthAdjust="spacingAndGlyphs" fill="#1e90ff" stroke="#1e90ff" stroke-width="0.6">154.00</text>
<path d="M1518.5,96 L1583.5,17" fill="none" stroke="#ffffff" stroke-width="3.1" stroke-linecap="round" stroke-linejoin="round"/>
<path d="M1571.5,20 L1583.5,17 L1579.7,33.5" fill="none" stroke="#ffffff" stroke-width="2.7" stroke-linecap="round" stroke-linejoin="round"/>
<path d="M1391.3,230.5 L1418.5,302.5" fill="none" stroke="#ffffff" stroke-width="3.1" stroke-linecap="round" stroke-linejoin="round"/>
<path d="M1405.4,292 L1418.5,302.5 L1419.5,284" fill="none" stroke="#ffffff" stroke-width="2.7" stroke-linecap="round" stroke-linejoin="round"/>
<path d="M1392.6,155.6 L1416.7,199.5" fill="none" stroke="#ee1c25" stroke-width="3.1" stroke-linecap="round" stroke-linejoin="round"/>
<path d="M1404.2,190.8 L1416.7,199.5 L1417,185.2" fill="none" stroke="#ee1c25" stroke-width="2.7" stroke-linecap="round" stroke-linejoin="round"/>
<path d="M1437.8,117 L1481.5,192.7" fill="none" stroke="#ee1c25" stroke-width="3.1" stroke-linecap="round" stroke-linejoin="round"/>
<path d="M1469.5,186.3 L1481.5,192.7 L1481.7,173.5" fill="none" stroke="#ee1c25" stroke-width="2.7" stroke-linecap="round" stroke-linejoin="round"/>
<path d="M1520.2,200.3 L1563.7,111.7 L1616,190.8" fill="none" stroke="#ee1c25" stroke-width="3.1" stroke-linecap="round" stroke-linejoin="round"/>
<path d="M1598.6,184.4 L1616,190.8 L1612.3,167.5" fill="none" stroke="#ee1c25" stroke-width="2.7" stroke-linecap="round" stroke-linejoin="round"/>
</svg></body></html>
